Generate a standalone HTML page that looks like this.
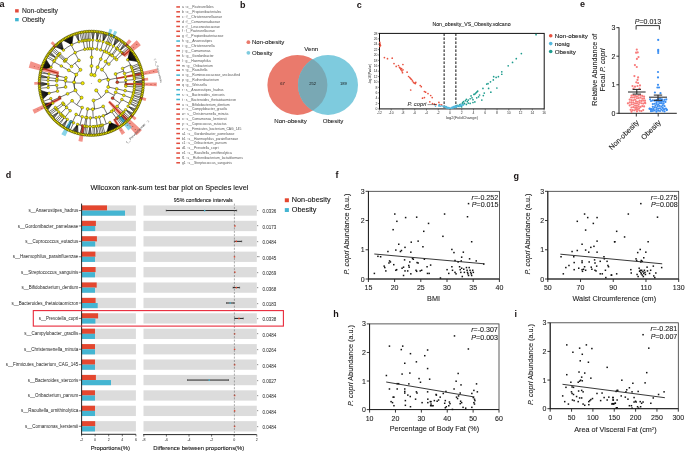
<!DOCTYPE html>
<html><head><meta charset="utf-8"><style>
html,body{margin:0;padding:0;background:#fff;overflow:hidden}
svg{display:block;will-change:transform}
text{font-family:"Liberation Sans",sans-serif}
</style></head><body>
<svg width="685" height="451" viewBox="0 0 685 451">
<rect width="685" height="451" fill="#fff"/>
<text x="-0.6" y="6.8" font-size="9.0" text-anchor="start" fill="#1a1414" font-weight="bold" font-style="normal" >a</text>
<text x="240" y="7.8" font-size="9.0" text-anchor="start" fill="#1a1414" font-weight="bold" font-style="normal" >b</text>
<text x="356.8" y="7.5" font-size="9.0" text-anchor="start" fill="#1a1414" font-weight="bold" font-style="normal" >c</text>
<text x="580.1" y="7.3" font-size="9.0" text-anchor="start" fill="#1a1414" font-weight="bold" font-style="normal" >e</text>
<text x="5.7" y="178.3" font-size="9.0" text-anchor="start" fill="#1a1414" font-weight="bold" font-style="normal" >d</text>
<text x="335.4" y="178.3" font-size="9.0" text-anchor="start" fill="#1a1414" font-weight="bold" font-style="normal" >f</text>
<text x="513.6" y="178.7" font-size="9.0" text-anchor="start" fill="#1a1414" font-weight="bold" font-style="normal" >g</text>
<text x="333.3" y="316.5" font-size="9.0" text-anchor="start" fill="#1a1414" font-weight="bold" font-style="normal" >h</text>
<text x="514.5" y="316.5" font-size="9.0" text-anchor="start" fill="#1a1414" font-weight="bold" font-style="normal" >i</text>
<path d="M107.8,33.99 L109.55,28.77 A57.5,57.5 0 0 1 112.37,29.8 L110.36,34.92 A52,52 0 0 0 107.8,33.99Z" fill="#5CC3E0" fill-opacity="0.72"/>
<path d="M112.2,35.69 L114.41,30.65 A57.5,57.5 0 0 1 117.14,31.93 L114.66,36.84 A52,52 0 0 0 112.2,35.69Z" fill="#5CC3E0" fill-opacity="0.72"/>
<path d="M125.14,43.82 L129.04,39.26 A58,58 0 0 1 131.59,41.58 L127.42,45.89 A52,52 0 0 0 125.14,43.82Z" fill="#EE6A5C" fill-opacity="0.72"/>
<path d="M122.18,54.1 L136.71,40.36 A62.5,62.5 0 0 1 140.82,45.17 L124.97,57.37 A42.5,42.5 0 0 0 122.18,54.1Z" fill="#EE6A5C" fill-opacity="0.72"/>
<path d="M116.47,77.63 L157.15,68.46 A67.5,67.5 0 0 1 157.99,72.86 L116.79,79.31 A25.8,25.8 0 0 0 116.47,77.63Z" fill="#EE6A5C" fill-opacity="0.72"/>
<path d="M143.05,78.23 L148.03,77.74 A57,57 0 0 1 148.23,80.52 L143.24,80.76 A52,52 0 0 0 143.05,78.23Z" fill="#EE6A5C" fill-opacity="0.72"/>
<path d="M125.7,82.88 L156.8,82.5 A65.5,65.5 0 0 1 156.74,86.16 L125.67,84.8 A34.4,34.4 0 0 0 125.7,82.88Z" fill="#EE6A5C" fill-opacity="0.72"/>
<path d="M141.5,96.85 L146.33,98.15 A57,57 0 0 1 145.48,101.01 L140.73,99.46 A52,52 0 0 0 141.5,96.85Z" fill="#EE6A5C" fill-opacity="0.72"/>
<path d="M132.55,114.96 L136.52,118 A57,57 0 0 1 134.64,120.32 L130.84,117.07 A52,52 0 0 0 132.55,114.96Z" fill="#EE6A5C" fill-opacity="0.72"/>
<path d="M109.95,100.69 L141.76,130.36 A69,69 0 0 1 136.57,135.37 L108.03,102.55 A25.5,25.5 0 0 0 109.95,100.69Z" fill="#EE6A5C" fill-opacity="0.72"/>
<path d="M120.18,114.48 L132.07,127.32 A60,60 0 0 1 128.4,130.45 L117.58,116.7 A42.5,42.5 0 0 0 120.18,114.48Z" fill="#5CC3E0" fill-opacity="0.72"/>
<path d="M115.25,118.41 L125.11,132.87 A60,60 0 0 1 121.93,134.89 L113,119.84 A42.5,42.5 0 0 0 115.25,118.41Z" fill="#EE6A5C" fill-opacity="0.72"/>
<path d="M84.8,126.31 L82.48,141.64 A59,59 0 0 1 78.43,140.88 L81.81,125.75 A43.5,43.5 0 0 0 84.8,126.31Z" fill="#EE6A5C" fill-opacity="0.72"/>
<path d="M72.38,121.92 L65.34,136.28 A59,59 0 0 1 61.36,134.14 L69.48,120.35 A43,43 0 0 0 72.38,121.92Z" fill="#5CC3E0" fill-opacity="0.72"/>
<path d="M61.6,99.22 L34.46,113.78 A64.5,64.5 0 0 1 32.47,109.74 L60.56,97.11 A33.7,33.7 0 0 0 61.6,99.22Z" fill="#EE6A5C" fill-opacity="0.72"/>
<path d="M40.32,84.55 L34.32,84.69 A57,57 0 0 1 34.32,81.91 L40.32,82.05 A51,51 0 0 0 40.32,84.55Z" fill="#EE6A5C" fill-opacity="0.72"/>
<path d="M58.12,75.03 L28.72,67.7 A64.5,64.5 0 0 1 30.69,61.24 L59.16,71.6 A34.2,34.2 0 0 0 58.12,75.03Z" fill="#EE6A5C" fill-opacity="0.72"/>
<path d="M54.21,46.85 L50.64,43.35 A57,57 0 0 1 52.79,41.28 L56.17,44.96 A52,52 0 0 0 54.21,46.85Z" fill="#EE6A5C" fill-opacity="0.72"/>
<path d="M77.58,124.37L78.11,133.56A51.96,51.96 0 0 1 71.63,131.39Z" fill="#111" fill-opacity="0.59"/>
<path d="M71.04,121.57L68.51,130A51.96,51.96 0 0 1 65.49,128.4Z" fill="#111" fill-opacity="0.35"/>
<path d="M67.37,119.39L64.03,127.53A51.96,51.96 0 0 1 61.18,125.64Z" fill="#111" fill-opacity="0.35"/>
<path d="M58.81,111.93L53.46,118.91A51.96,51.96 0 0 1 51.21,116.35Z" fill="#111" fill-opacity="0.35"/>
<path d="M52.81,103.13L47.22,110.81A51.96,51.96 0 0 1 43.31,103.22Z" fill="#111" fill-opacity="0.71"/>
<path d="M49.13,93.13L42.11,100.03A51.96,51.96 0 0 1 39.78,90.06Z" fill="#111" fill-opacity="0.83"/>
<path d="M48.01,83.97L39.45,86.66A51.96,51.96 0 0 1 39.37,81.54Z" fill="#111" fill-opacity="0.47"/>
<path d="M48.38,77.58L39.6,78.13A51.96,51.96 0 0 1 40.05,74.74Z" fill="#111" fill-opacity="0.35"/>
<path d="M51.07,67.28L41.14,69.74A51.96,51.96 0 0 1 45.56,58.66Z" fill="#111" fill-opacity="0.90"/>
<path d="M56.2,57.94L48.21,54.27A51.96,51.96 0 0 1 50.21,51.5Z" fill="#111" fill-opacity="0.35"/>
<path d="M63.45,50.14L54.73,46.39A51.96,51.96 0 0 1 61.26,40.9Z" fill="#111" fill-opacity="0.71"/>
<path d="M71.75,44.66L62.67,39.94A51.96,51.96 0 0 1 73.32,34.55Z" fill="#111" fill-opacity="0.90"/>
<path d="M79.02,41.78L74.93,33.99A51.96,51.96 0 0 1 78.21,33.02Z" fill="#111" fill-opacity="0.35"/>
<path d="M92.81,40.03L91.46,31.34A51.96,51.96 0 0 1 94.76,31.46Z" fill="#111" fill-opacity="0.35"/>
<path d="M96.92,40.37L96.4,31.59A51.96,51.96 0 0 1 99.67,32.02Z" fill="#111" fill-opacity="0.35"/>
<path d="M103.05,41.63L102.93,32.66A51.96,51.96 0 0 1 107.84,34.04Z" fill="#111" fill-opacity="0.47"/>
<path d="M113.45,46.09L115.65,37.4A51.96,51.96 0 0 1 120.05,40.02Z" fill="#111" fill-opacity="0.47"/>
<path d="M119.78,50.68L124.17,43.06A51.96,51.96 0 0 1 126.74,45.31Z" fill="#111" fill-opacity="0.35"/>
<path d="M127.67,59.81L130.31,48.98A51.96,51.96 0 0 1 138.63,61.85Z" fill="#111" fill-opacity="0.90"/>
<path d="M134.58,81.96L143.15,79.98A51.96,51.96 0 0 1 143.26,83.39Z" fill="#111" fill-opacity="0.35"/>
<path d="M128.03,106.23L136.25,109.37A51.96,51.96 0 0 1 134.46,112.24Z" fill="#111" fill-opacity="0.35"/>
<path d="M125.62,109.7L133.49,113.62A51.96,51.96 0 0 1 131.43,116.3Z" fill="#111" fill-opacity="0.35"/>
<path d="M109.88,122.41L120.2,126.48A51.96,51.96 0 0 1 106.51,132.98Z" fill="#111" fill-opacity="0.90"/>
<path d="M90.08,126.58L91.53,135.26A51.96,51.96 0 0 1 88.15,135.16Z" fill="#111" fill-opacity="0.35"/>
<path d="M82.64,83.16L73.98,83.03M73.98,83.03A17.32,17.32 0 0 0 81.58,97.64M73.98,83.03A17.32,17.32 0 0 0 75.47,90.33M73.98,83.03A17.32,17.32 0 0 1 74.01,82.31M73.98,83.03A17.32,17.32 0 0 1 76.29,74.65M73.98,83.03A17.32,17.32 0 0 1 80.42,69.83M81.58,97.64L76.72,104.8M76.72,104.8A25.98,25.98 0 0 0 82.16,107.62M76.72,104.8A25.98,25.98 0 0 1 72.09,100.79M82.16,107.62L79.11,115.73M79.11,115.73A34.64,34.64 0 0 0 82.23,116.73M79.11,115.73A34.64,34.64 0 0 1 76.11,114.43M82.23,116.73L79.96,125.09M79.96,125.09A43.3,43.3 0 0 0 82.38,125.67M79.96,125.09A43.3,43.3 0 0 1 77.58,124.37M82.38,125.67L81.44,134.32M82.38,125.67L79.77,133.96M77.58,124.37L78.11,133.56M77.58,124.37L76.46,133.1M77.58,124.37L74.83,132.58M77.58,124.37L73.22,132.01M77.58,124.37L71.63,131.39M76.11,114.43L72.31,122.21M72.31,122.21A43.3,43.3 0 0 0 73.6,122.82M72.31,122.21A43.3,43.3 0 0 1 71.04,121.57M73.6,122.82L70.06,130.72M71.04,121.57L68.51,130M71.04,121.57L66.99,129.22M71.04,121.57L65.49,128.4M72.09,100.79L65.69,106.62M65.69,106.62A34.64,34.64 0 0 0 70.15,110.73M65.69,106.62A34.64,34.64 0 0 0 66.6,107.59M65.69,106.62A34.64,34.64 0 0 1 63.86,104.44M65.69,106.62A34.64,34.64 0 0 1 62.85,103.06M70.15,110.73L64.86,117.59M64.86,117.59A43.3,43.3 0 0 0 67.37,119.39M64.86,117.59A43.3,43.3 0 0 1 64.49,117.3M64.86,117.59A43.3,43.3 0 0 1 62.85,115.94M67.37,119.39L64.03,127.53M67.37,119.39L62.59,126.61M67.37,119.39L61.18,125.64M64.49,117.3L59.8,124.63M64.49,117.3L58.46,123.57M62.85,115.94L57.16,122.47M66.6,107.59L60.43,113.66M60.43,113.66A43.3,43.3 0 0 0 61.79,114.99M60.43,113.66A43.3,43.3 0 0 0 60.76,114M60.43,113.66A43.3,43.3 0 0 1 58.81,111.93M61.79,114.99L55.89,121.32M60.76,114L54.66,120.14M58.81,111.93L53.46,118.91M58.81,111.93L52.31,117.65M58.81,111.93L51.21,116.35M63.86,104.44L57,109.73M57,109.73L50.14,115.01M62.85,103.06L55.74,108.01M55.74,108.01A43.3,43.3 0 0 0 56.15,108.59M55.74,108.01A43.3,43.3 0 0 1 55.34,107.42M56.15,108.59L49.12,113.64M55.34,107.42L48.15,112.24M75.47,90.33L67.56,93.85M67.56,93.85L59.64,97.37M59.64,97.37L51.73,100.88M51.73,100.88A43.3,43.3 0 0 0 52.81,103.13M51.73,100.88A43.3,43.3 0 0 1 50.79,98.58M52.81,103.13L47.22,110.81M52.81,103.13L46.34,109.34M52.81,103.13L45.51,107.85M52.81,103.13L44.72,106.33M52.81,103.13L43.99,104.79M52.81,103.13L43.31,103.22M50.79,98.58L42.68,101.63M74.01,82.31L65.36,81.82M65.36,81.82A25.98,25.98 0 0 0 65.58,87M65.36,81.82A25.98,25.98 0 0 1 65.45,80.72M65.36,81.82A25.98,25.98 0 0 1 65.92,77.76M65.58,87L57.01,88.23M57.01,88.23A34.64,34.64 0 0 0 57.57,91.17M57.01,88.23A34.64,34.64 0 0 1 56.72,85.26M57.57,91.17L49.13,93.13M49.13,93.13L42.11,100.03M49.13,93.13L41.58,98.4M49.13,93.13L41.11,96.76M49.13,93.13L40.7,95.1M49.13,93.13L40.34,93.43M49.13,93.13L40.03,91.75M49.13,93.13L39.78,90.06M56.72,85.26L48.07,85.75M48.07,85.75A43.3,43.3 0 0 0 48.21,87.52M48.07,85.75A43.3,43.3 0 0 1 48.01,83.97M48.21,87.52L39.59,88.36M48.01,83.97L39.45,86.66M48.01,83.97L39.37,84.96M48.01,83.97L39.34,83.25M48.01,83.97L39.37,81.54M65.45,80.72L56.83,79.85M56.83,79.85A34.64,34.64 0 0 0 56.74,80.99M56.83,79.85A34.64,34.64 0 0 1 56.96,78.72M56.74,80.99L48.1,80.41M48.1,80.41L39.46,79.83M56.96,78.72L48.38,77.58M48.38,77.58L39.6,78.13M48.38,77.58L39.8,76.43M48.38,77.58L40.05,74.74M65.92,77.76L57.46,75.92M57.46,75.92L48.99,74.07M48.99,74.07L40.36,73.06M48.99,74.07L40.72,71.4M76.29,74.65L68.79,70.32M68.79,70.32L61.29,66M61.29,66L53.79,61.67M53.79,61.67A43.3,43.3 0 0 0 51.07,67.28M53.79,61.67A43.3,43.3 0 0 1 53.88,61.52M53.79,61.67A43.3,43.3 0 0 1 54.61,60.3M53.79,61.67A43.3,43.3 0 0 1 56.2,57.94M51.07,67.28L41.14,69.74M51.07,67.28L41.61,68.1M51.07,67.28L42.14,66.47M51.07,67.28L42.72,64.87M51.07,67.28L43.35,63.28M51.07,67.28L44.04,61.71M51.07,67.28L44.77,60.17M51.07,67.28L45.56,58.66M53.88,61.52L46.39,57.16M54.61,60.3L47.27,55.7M56.2,57.94L48.21,54.27M56.2,57.94L49.18,52.87M56.2,57.94L50.21,51.5M80.42,69.83L74.98,63.09M74.98,63.09A25.98,25.98 0 0 0 71.56,66.41M74.98,63.09A25.98,25.98 0 0 1 78.94,60.45M71.56,66.41L64.98,60.78M64.98,60.78A34.64,34.64 0 0 0 64.62,61.21M64.98,60.78A34.64,34.64 0 0 1 65.36,60.35M64.62,61.21L57.94,55.69M57.94,55.69L51.27,50.17M65.36,60.35L58.87,54.61M58.87,54.61L52.38,48.87M78.94,60.45L74.82,52.83M74.82,52.83A34.64,34.64 0 0 0 66.12,59.51M74.82,52.83A34.64,34.64 0 0 1 75.16,52.65M74.82,52.83A34.64,34.64 0 0 1 84.79,49.28M66.12,59.51L59.83,53.56M59.83,53.56L53.54,47.61M75.16,52.65L71.12,44.99M71.12,44.99A43.3,43.3 0 0 0 63.45,50.14M71.12,44.99A43.3,43.3 0 0 1 71.75,44.66M71.12,44.99A43.3,43.3 0 0 1 79.02,41.78M63.45,50.14L54.73,46.39M63.45,50.14L55.96,45.21M63.45,50.14L57.24,44.06M63.45,50.14L58.54,42.97M63.45,50.14L59.89,41.91M63.45,50.14L61.26,40.9M71.75,44.66L62.67,39.94M71.75,44.66L64.12,39.02M71.75,44.66L65.59,38.15M71.75,44.66L67.08,37.33M71.75,44.66L68.61,36.56M71.75,44.66L70.16,35.84M71.75,44.66L71.73,35.17M71.75,44.66L73.32,34.55M79.02,41.78L74.93,33.99M79.02,41.78L76.56,33.47M79.02,41.78L78.21,33.02M84.79,49.28L83.17,40.77M83.17,40.77A43.3,43.3 0 0 0 81.77,41.06M83.17,40.77A43.3,43.3 0 0 1 84.57,40.53M81.77,41.06L79.87,32.61M83.17,40.77L81.54,32.26M84.57,40.53L83.22,31.97M91.4,74.64L91.49,65.98M91.49,65.98L91.59,57.32M91.59,57.32L91.68,48.66M91.68,48.66A34.64,34.64 0 0 0 87.57,48.86M91.68,48.66A34.64,34.64 0 0 0 89.76,48.69M91.68,48.66A34.64,34.64 0 0 1 92.51,48.68M91.68,48.66A34.64,34.64 0 0 1 96.88,49.11M87.57,48.86L86.64,40.25M86.64,40.25A43.3,43.3 0 0 0 85.95,40.33M86.64,40.25A43.3,43.3 0 0 1 87.32,40.18M85.95,40.33L84.89,31.74M87.32,40.18L86.53,31.56M89.76,48.69L89.38,40.04M89.38,40.04A43.3,43.3 0 0 0 88.69,40.08M89.38,40.04A43.3,43.3 0 0 1 90.06,40.02M88.69,40.08L88.17,31.43M90.06,40.02L89.82,31.36M92.51,48.68L92.81,40.03M92.81,40.03L91.46,31.34M92.81,40.03L93.11,31.37M92.81,40.03L94.76,31.46M96.88,49.11L98.28,40.57M98.28,40.57A43.3,43.3 0 0 0 96.92,40.37M98.28,40.57A43.3,43.3 0 0 1 99.63,40.81M96.92,40.37L96.4,31.59M96.92,40.37L98.04,31.78M96.92,40.37L99.67,32.02M99.63,40.81L101.3,32.31M94.46,75.24L97.61,67.17M97.61,67.17L100.77,59.11M100.77,59.11L103.93,51.04M103.93,51.04A34.64,34.64 0 0 0 100.7,49.96M103.93,51.04A34.64,34.64 0 0 1 104.45,51.25M103.93,51.04A34.64,34.64 0 0 1 106.52,52.18M100.7,49.96L103.05,41.63M103.05,41.63L102.93,32.66M103.05,41.63L104.58,33.07M103.05,41.63L106.22,33.53M103.05,41.63L107.84,34.04M104.45,51.25L107.74,43.24M107.74,43.24A43.3,43.3 0 0 0 106.42,42.73M107.74,43.24A43.3,43.3 0 0 1 109.04,43.8M106.42,42.73L109.44,34.61M107.74,43.24L111.03,35.23M109.04,43.8L112.59,35.9M106.52,52.18L110.32,44.4M110.32,44.4L114.13,36.62M99.58,80.75L107.85,78.19M107.85,78.19A17.32,17.32 0 0 0 101.9,69.61M107.85,78.19A17.32,17.32 0 0 1 108.27,79.84M107.85,78.19A17.32,17.32 0 0 1 108.22,87M101.9,69.61L107.21,62.76M107.21,62.76A25.98,25.98 0 0 0 105.5,61.54M107.21,62.76A25.98,25.98 0 0 1 108.81,64.11M105.5,61.54L110.23,54.29M110.23,54.29A34.64,34.64 0 0 0 109.02,53.54M110.23,54.29A34.64,34.64 0 0 1 111.4,55.09M109.02,53.54L113.45,46.09M113.45,46.09L115.65,37.4M113.45,46.09L117.14,38.22M113.45,46.09L118.61,39.1M113.45,46.09L120.05,40.02M111.4,55.09L116.43,48.04M116.43,48.04L121.46,40.99M108.81,64.11L114.65,57.71M114.65,57.71A34.64,34.64 0 0 0 112.32,55.77M114.65,57.71A34.64,34.64 0 0 1 114.93,57.97M114.65,57.71A34.64,34.64 0 0 1 116.54,59.58M112.32,55.77L117.58,48.88M117.58,48.88L122.83,42M114.93,57.97L120.84,51.64M120.84,51.64A43.3,43.3 0 0 0 119.78,50.68M120.84,51.64A43.3,43.3 0 0 1 121.86,52.63M119.78,50.68L124.17,43.06M119.78,50.68L125.48,44.16M119.78,50.68L126.74,45.31M121.86,52.63L127.97,46.49M116.54,59.58L122.85,53.65M122.85,53.65L129.16,47.72M108.27,79.84L116.76,78.11M116.76,78.11A25.98,25.98 0 0 0 115.58,74.05M116.76,78.11A25.98,25.98 0 0 1 117.26,82.3M115.58,74.05L123.67,70.97M123.67,70.97A34.64,34.64 0 0 0 122.61,68.48M123.67,70.97A34.64,34.64 0 0 1 124.53,73.53M122.61,68.48L130.44,64.78M130.44,64.78A43.3,43.3 0 0 0 127.67,59.81M130.44,64.78A43.3,43.3 0 0 1 131.3,66.73M130.44,64.78A43.3,43.3 0 0 1 131.83,68.05M127.67,59.81L130.31,48.98M127.67,59.81L131.42,50.28M127.67,59.81L132.48,51.62M127.67,59.81L133.5,52.99M127.67,59.81L134.48,54.39M127.67,59.81L135.4,55.83M127.67,59.81L136.28,57.29M127.67,59.81L137.11,58.79M127.67,59.81L137.89,60.3M127.67,59.81L138.63,61.85M131.3,66.73L139.3,63.42M131.83,68.05L139.93,65M124.53,73.53L132.84,71.09M132.84,71.09A43.3,43.3 0 0 0 132.53,70.07M132.84,71.09A43.3,43.3 0 0 1 133.13,72.12M132.53,70.07L140.51,66.61M132.53,70.07L141.03,68.24M133.13,72.12L141.5,69.88M117.26,82.3L125.91,81.96M125.91,81.96A34.64,34.64 0 0 0 125.33,76.85M125.91,81.96A34.64,34.64 0 0 0 125.81,80.33M125.91,81.96A34.64,34.64 0 0 1 125.92,84.5M125.91,81.96A34.64,34.64 0 0 1 125.82,86.21M125.33,76.85L133.84,75.24M133.84,75.24A43.3,43.3 0 0 0 133.63,74.19M133.84,75.24A43.3,43.3 0 0 1 134.03,76.29M133.63,74.19L141.91,71.54M133.63,74.19L142.27,73.21M134.03,76.29L142.57,74.89M125.81,80.33L134.44,79.59M134.44,79.59A43.3,43.3 0 0 0 134.24,77.7M134.44,79.59A43.3,43.3 0 0 0 134.4,79.11M134.44,79.59A43.3,43.3 0 0 1 134.58,81.96M134.24,77.7L142.82,76.58M134.4,79.11L143.02,78.28M134.58,81.96L143.15,79.98M134.58,81.96L143.23,81.69M134.58,81.96L143.26,83.39M125.92,84.5L134.57,84.8M134.57,84.8L143.23,85.1M125.82,86.21L134.45,86.93M134.45,86.93A43.3,43.3 0 0 0 134.5,86.22M134.45,86.93A43.3,43.3 0 0 1 134.38,87.64M134.5,86.22L143.14,86.81M134.38,87.64L143,88.51M108.22,87L116.68,88.86M116.68,88.86L125.14,90.71M125.14,90.71L133.6,92.56M133.6,92.56A43.3,43.3 0 0 0 134.12,89.76M133.6,92.56A43.3,43.3 0 0 0 133.74,91.86M133.6,92.56A43.3,43.3 0 0 1 133.44,93.25M133.6,92.56A43.3,43.3 0 0 1 132.9,95.32M134.12,89.76L142.8,90.21M134.12,89.76L142.54,91.9M133.74,91.86L142.23,93.58M133.44,93.25L141.87,95.25M132.9,95.32L141.45,96.9M132.9,95.32L140.97,98.54M96.26,90.4L101.21,97.5M101.21,97.5A17.32,17.32 0 0 0 106.65,91.32M101.21,97.5A17.32,17.32 0 0 1 93.54,100.47M106.65,91.32L114.33,95.33M114.33,95.33A25.98,25.98 0 0 0 115.66,92.33M114.33,95.33A25.98,25.98 0 0 1 112.62,98.15M115.66,92.33L123.78,95.33M123.78,95.33L131.9,98.34M131.9,98.34A43.3,43.3 0 0 0 132.26,97.35M131.9,98.34A43.3,43.3 0 0 1 131.52,99.33M132.26,97.35L140.45,100.16M131.52,99.33L139.88,101.75M131.52,99.33L139.25,103.32M112.62,98.15L119.73,103.09M119.73,103.09A34.64,34.64 0 0 0 121.9,99.53M119.73,103.09A34.64,34.64 0 0 1 117.14,106.37M121.9,99.53L129.55,103.59M129.55,103.59A43.3,43.3 0 0 0 130.69,101.27M129.55,103.59A43.3,43.3 0 0 0 129.77,103.17M129.55,103.59A43.3,43.3 0 0 1 128.03,106.23M130.69,101.27L138.57,104.87M129.77,103.17L137.85,106.39M129.77,103.17L137.07,107.89M128.03,106.23L136.25,109.37M128.03,106.23L135.38,110.82M128.03,106.23L134.46,112.24M117.14,106.37L123.6,112.14M123.6,112.14A43.3,43.3 0 0 0 125.62,109.7M123.6,112.14A43.3,43.3 0 0 0 123.83,111.88M123.6,112.14A43.3,43.3 0 0 1 122.89,112.92M123.6,112.14A43.3,43.3 0 0 1 121.91,113.93M125.62,109.7L133.49,113.62M125.62,109.7L132.48,114.98M125.62,109.7L131.43,116.3M123.83,111.88L130.34,117.59M122.89,112.92L129.2,118.84M121.91,113.93L128.03,120.06M93.54,100.47L94.66,109.06M94.66,109.06A25.98,25.98 0 0 0 103.19,106.4M94.66,109.06A25.98,25.98 0 0 1 92.73,109.24M94.66,109.06A25.98,25.98 0 0 1 87.62,109.02M103.19,106.4L107.15,114.1M107.15,114.1A34.64,34.64 0 0 0 113.43,109.95M107.15,114.1A34.64,34.64 0 0 0 111.49,111.44M107.15,114.1A34.64,34.64 0 0 1 103.31,115.79M107.15,114.1A34.64,34.64 0 0 1 99.27,117.01M113.43,109.95L118.96,116.62M118.96,116.62A43.3,43.3 0 0 0 120.38,115.39M118.96,116.62A43.3,43.3 0 0 1 118.78,116.77M118.96,116.62A43.3,43.3 0 0 1 117.67,117.64M120.38,115.39L126.81,121.23M120.38,115.39L125.56,122.37M118.78,116.77L124.27,123.46M117.67,117.64L122.95,124.51M111.49,111.44L116.54,118.48M116.54,118.48L121.59,125.52M103.31,115.79L106.31,123.91M106.31,123.91A43.3,43.3 0 0 0 109.88,122.41M106.31,123.91A43.3,43.3 0 0 1 102.62,125.09M109.88,122.41L120.2,126.48M109.88,122.41L118.78,127.4M109.88,122.41L117.33,128.27M109.88,122.41L115.86,129.09M109.88,122.41L114.36,129.86M109.88,122.41L112.83,130.59M109.88,122.41L111.28,131.27M109.88,122.41L109.71,131.89M109.88,122.41L108.12,132.46M109.88,122.41L106.51,132.98M102.62,125.09L104.89,133.45M99.27,117.01L101.26,125.44M101.26,125.44L103.25,133.87M92.73,109.24L93.21,117.89M93.21,117.89A34.64,34.64 0 0 0 96.08,117.61M93.21,117.89A34.64,34.64 0 0 1 90.32,117.93M96.08,117.61L97.28,126.19M97.28,126.19A43.3,43.3 0 0 0 99.88,125.74M97.28,126.19A43.3,43.3 0 0 0 98.5,126M97.28,126.19A43.3,43.3 0 0 1 96.41,126.3M97.28,126.19A43.3,43.3 0 0 1 94.3,126.5M99.88,125.74L101.6,134.23M98.5,126L99.94,134.54M96.41,126.3L98.27,134.79M96.41,126.3L96.59,134.99M94.3,126.5L94.9,135.13M90.32,117.93L90.08,126.58M90.08,126.58A43.3,43.3 0 0 0 92.9,126.57M90.08,126.58A43.3,43.3 0 0 1 87.27,126.41M92.9,126.57L93.22,135.22M90.08,126.58L91.53,135.26M90.08,126.58L89.84,135.24M90.08,126.58L88.15,135.16M87.27,126.41L86.46,135.03M87.62,109.02L86.4,117.59M86.4,117.59A34.64,34.64 0 0 0 86.96,117.67M86.4,117.59A34.64,34.64 0 0 1 85.84,117.51M86.96,117.67L85.87,126.26M85.87,126.26L84.78,134.85M85.84,117.51L84.48,126.06M84.48,126.06L83.11,134.61" stroke="#000" stroke-width="0.55" fill="none"/>
<circle cx="91.3" cy="83.3" r="51.96" fill="none" stroke="#3a3a10" stroke-width="1.2"/>
<text x="133.5" y="48.06" font-size="2.3" text-anchor="middle" fill="#8a1a10">c</text>
<text x="136.54" y="45.46" font-size="2.3" text-anchor="middle" fill="#8a1a10">d</text>
<line x1="123.62" y1="55.7" x2="130.84" y2="49.53" stroke="#B8301F" stroke-width="1.3" />
<text x="145.82" y="73.7" font-size="2.3" text-anchor="middle" fill="#8a1a10">e</text>
<text x="149.75" y="72.95" font-size="2.3" text-anchor="middle" fill="#8a1a10">f</text>
<text x="153.68" y="72.2" font-size="2.3" text-anchor="middle" fill="#8a1a10">g</text>
<line x1="116.64" y1="78.47" x2="142.38" y2="73.56" stroke="#B8301F" stroke-width="1.3" />
<text x="146.79" y="84.97" font-size="2.3" text-anchor="middle" fill="#8a1a10">p</text>
<text x="150.79" y="85.03" font-size="2.3" text-anchor="middle" fill="#8a1a10">q</text>
<text x="154.79" y="85.1" font-size="2.3" text-anchor="middle" fill="#8a1a10">n</text>
<line x1="125.7" y1="83.84" x2="143.29" y2="84.12" stroke="#B8301F" stroke-width="1.3" />
<text x="129.85" y="124.02" font-size="2.3" text-anchor="middle" fill="#8a1a10">m</text>
<text x="132.63" y="126.9" font-size="2.3" text-anchor="middle" fill="#8a1a10">a</text>
<text x="135.41" y="129.78" font-size="2.3" text-anchor="middle" fill="#8a1a10">b</text>
<line x1="109.01" y1="101.64" x2="127.42" y2="120.71" stroke="#B8301F" stroke-width="1.3" />
<text x="127.34" y="126.3" font-size="2.3" text-anchor="middle" fill="#8a1a10">u</text>
<line x1="118.9" y1="115.62" x2="125.07" y2="122.84" stroke="#2E9CC8" stroke-width="1.3" />
<text x="121.12" y="130.91" font-size="2.3" text-anchor="middle" fill="#8a1a10">v</text>
<line x1="114.14" y1="119.14" x2="119.24" y2="127.16" stroke="#B8301F" stroke-width="1.3" />
<line x1="83.3" y1="126.06" x2="81.73" y2="134.41" stroke="#B8301F" stroke-width="1.3" />
<line x1="70.91" y1="121.16" x2="66.65" y2="129.08" stroke="#2E9CC8" stroke-width="1.3" />
<text x="41.5" y="108.6" font-size="2.3" text-anchor="middle" fill="#8a1a10">w</text>
<text x="37.91" y="110.37" font-size="2.3" text-anchor="middle" fill="#8a1a10">x</text>
<line x1="61.06" y1="98.18" x2="44.64" y2="106.26" stroke="#B8301F" stroke-width="1.3" />
<text x="38.23" y="67.87" font-size="2.3" text-anchor="middle" fill="#8a1a10">y</text>
<text x="34.4" y="66.7" font-size="2.3" text-anchor="middle" fill="#8a1a10">z</text>
<line x1="58.59" y1="73.3" x2="41.57" y2="68.1" stroke="#B8301F" stroke-width="1.3" />
<g fill="#F2EA00" stroke="#333300" stroke-width="0.4"><circle cx="81.44" cy="134.32" r="1.2" stroke-width="0.55"/><circle cx="79.77" cy="133.96" r="1.2" stroke-width="0.55"/><circle cx="78.11" cy="133.56" r="1.2" stroke-width="0.55"/><circle cx="76.46" cy="133.1" r="1.2" stroke-width="0.55"/><circle cx="74.83" cy="132.58" r="1.2" stroke-width="0.55"/><circle cx="73.22" cy="132.01" r="1.2" stroke-width="0.55"/><circle cx="71.63" cy="131.39" r="1.2" stroke-width="0.55"/><circle cx="70.06" cy="130.72" r="1.2" stroke-width="0.55"/><circle cx="68.51" cy="130" r="1.2" stroke-width="0.55"/><circle cx="66.99" cy="129.22" r="1.2" stroke-width="0.55"/><circle cx="65.49" cy="128.4" r="1.2" stroke-width="0.55"/><circle cx="64.03" cy="127.53" r="1.2" stroke-width="0.55"/><circle cx="62.59" cy="126.61" r="1.2" stroke-width="0.55"/><circle cx="61.18" cy="125.64" r="1.2" stroke-width="0.55"/><circle cx="59.8" cy="124.63" r="1.2" stroke-width="0.55"/><circle cx="58.46" cy="123.57" r="1.2" stroke-width="0.55"/><circle cx="57.16" cy="122.47" r="1.2" stroke-width="0.55"/><circle cx="55.89" cy="121.32" r="1.2" stroke-width="0.55"/><circle cx="54.66" cy="120.14" r="1.2" stroke-width="0.55"/><circle cx="53.46" cy="118.91" r="1.2" stroke-width="0.55"/><circle cx="52.31" cy="117.65" r="1.2" stroke-width="0.55"/><circle cx="51.21" cy="116.35" r="1.2" stroke-width="0.55"/><circle cx="50.14" cy="115.01" r="1.2" stroke-width="0.55"/><circle cx="49.12" cy="113.64" r="1.2" stroke-width="0.55"/><circle cx="48.15" cy="112.24" r="1.2" stroke-width="0.55"/><circle cx="47.22" cy="110.81" r="1.2" stroke-width="0.55"/><circle cx="46.34" cy="109.34" r="1.2" stroke-width="0.55"/><circle cx="45.51" cy="107.85" r="1.2" stroke-width="0.55"/><circle cx="44.72" cy="106.33" r="1.2" stroke-width="0.55"/><circle cx="43.99" cy="104.79" r="1.2" stroke-width="0.55"/><circle cx="43.31" cy="103.22" r="1.2" stroke-width="0.55"/><circle cx="42.68" cy="101.63" r="1.2" stroke-width="0.55"/><circle cx="42.11" cy="100.03" r="1.2" stroke-width="0.55"/><circle cx="41.58" cy="98.4" r="1.2" stroke-width="0.55"/><circle cx="41.11" cy="96.76" r="1.2" stroke-width="0.55"/><circle cx="40.7" cy="95.1" r="1.2" stroke-width="0.55"/><circle cx="40.34" cy="93.43" r="1.2" stroke-width="0.55"/><circle cx="40.03" cy="91.75" r="1.2" stroke-width="0.55"/><circle cx="39.78" cy="90.06" r="1.2" stroke-width="0.55"/><circle cx="39.59" cy="88.36" r="1.2" stroke-width="0.55"/><circle cx="39.45" cy="86.66" r="1.2" stroke-width="0.55"/><circle cx="39.37" cy="84.96" r="1.2" stroke-width="0.55"/><circle cx="39.34" cy="83.25" r="1.2" fill="#D2392B" stroke-width="0.55"/><circle cx="39.37" cy="81.54" r="1.2" stroke-width="0.55"/><circle cx="39.46" cy="79.83" r="1.2" stroke-width="0.55"/><circle cx="39.6" cy="78.13" r="1.2" stroke-width="0.55"/><circle cx="39.8" cy="76.43" r="1.2" stroke-width="0.55"/><circle cx="40.05" cy="74.74" r="1.2" stroke-width="0.55"/><circle cx="40.36" cy="73.06" r="1.2" stroke-width="0.55"/><circle cx="40.72" cy="71.4" r="1.2" stroke-width="0.55"/><circle cx="41.14" cy="69.74" r="1.2" stroke-width="0.55"/><circle cx="41.61" cy="68.1" r="1.2" stroke-width="0.55"/><circle cx="42.14" cy="66.47" r="1.2" stroke-width="0.55"/><circle cx="42.72" cy="64.87" r="1.2" stroke-width="0.55"/><circle cx="43.35" cy="63.28" r="1.2" stroke-width="0.55"/><circle cx="44.04" cy="61.71" r="1.2" stroke-width="0.55"/><circle cx="44.77" cy="60.17" r="1.2" stroke-width="0.55"/><circle cx="45.56" cy="58.66" r="1.2" stroke-width="0.55"/><circle cx="46.39" cy="57.16" r="1.2" stroke-width="0.55"/><circle cx="47.27" cy="55.7" r="1.2" stroke-width="0.55"/><circle cx="48.21" cy="54.27" r="1.2" stroke-width="0.55"/><circle cx="49.18" cy="52.87" r="1.2" stroke-width="0.55"/><circle cx="50.21" cy="51.5" r="1.2" stroke-width="0.55"/><circle cx="51.27" cy="50.17" r="1.2" stroke-width="0.55"/><circle cx="52.38" cy="48.87" r="1.2" stroke-width="0.55"/><circle cx="53.54" cy="47.61" r="1.2" stroke-width="0.55"/><circle cx="54.73" cy="46.39" r="1.2" fill="#D2392B" stroke-width="0.55"/><circle cx="55.96" cy="45.21" r="1.2" stroke-width="0.55"/><circle cx="57.24" cy="44.06" r="1.2" stroke-width="0.55"/><circle cx="58.54" cy="42.97" r="1.2" stroke-width="0.55"/><circle cx="59.89" cy="41.91" r="1.2" stroke-width="0.55"/><circle cx="61.26" cy="40.9" r="1.2" stroke-width="0.55"/><circle cx="62.67" cy="39.94" r="1.2" stroke-width="0.55"/><circle cx="64.12" cy="39.02" r="1.2" stroke-width="0.55"/><circle cx="65.59" cy="38.15" r="1.2" stroke-width="0.55"/><circle cx="67.08" cy="37.33" r="1.2" stroke-width="0.55"/><circle cx="68.61" cy="36.56" r="1.2" stroke-width="0.55"/><circle cx="70.16" cy="35.84" r="1.2" stroke-width="0.55"/><circle cx="71.73" cy="35.17" r="1.2" stroke-width="0.55"/><circle cx="73.32" cy="34.55" r="1.2" stroke-width="0.55"/><circle cx="74.93" cy="33.99" r="1.2" stroke-width="0.55"/><circle cx="76.56" cy="33.47" r="1.2" stroke-width="0.55"/><circle cx="78.21" cy="33.02" r="1.2" stroke-width="0.55"/><circle cx="79.87" cy="32.61" r="1.2" stroke-width="0.55"/><circle cx="81.54" cy="32.26" r="1.2" stroke-width="0.55"/><circle cx="83.22" cy="31.97" r="1.2" stroke-width="0.55"/><circle cx="84.89" cy="31.74" r="1.2" stroke-width="0.55"/><circle cx="86.53" cy="31.56" r="1.2" stroke-width="0.55"/><circle cx="88.17" cy="31.43" r="1.2" stroke-width="0.55"/><circle cx="89.82" cy="31.36" r="1.2" stroke-width="0.55"/><circle cx="91.46" cy="31.34" r="1.2" stroke-width="0.55"/><circle cx="93.11" cy="31.37" r="1.2" stroke-width="0.55"/><circle cx="94.76" cy="31.46" r="1.2" stroke-width="0.55"/><circle cx="96.4" cy="31.59" r="1.2" stroke-width="0.55"/><circle cx="98.04" cy="31.78" r="1.2" stroke-width="0.55"/><circle cx="99.67" cy="32.02" r="1.2" stroke-width="0.55"/><circle cx="101.3" cy="32.31" r="1.2" stroke-width="0.55"/><circle cx="102.93" cy="32.66" r="1.2" stroke-width="0.55"/><circle cx="104.58" cy="33.07" r="1.2" stroke-width="0.55"/><circle cx="106.22" cy="33.53" r="1.2" stroke-width="0.55"/><circle cx="107.84" cy="34.04" r="1.2" stroke-width="0.55"/><circle cx="109.44" cy="34.61" r="1.2" fill="#3AAAD0" stroke-width="0.55"/><circle cx="111.03" cy="35.23" r="1.2" stroke-width="0.55"/><circle cx="112.59" cy="35.9" r="1.2" stroke-width="0.55"/><circle cx="114.13" cy="36.62" r="1.2" fill="#3AAAD0" stroke-width="0.55"/><circle cx="115.65" cy="37.4" r="1.2" stroke-width="0.55"/><circle cx="117.14" cy="38.22" r="1.2" stroke-width="0.55"/><circle cx="118.61" cy="39.1" r="1.2" stroke-width="0.55"/><circle cx="120.05" cy="40.02" r="1.2" stroke-width="0.55"/><circle cx="121.46" cy="40.99" r="1.2" stroke-width="0.55"/><circle cx="122.83" cy="42" r="1.2" stroke-width="0.55"/><circle cx="124.17" cy="43.06" r="1.2" stroke-width="0.55"/><circle cx="125.48" cy="44.16" r="1.2" stroke-width="0.55"/><circle cx="126.74" cy="45.31" r="1.2" fill="#D2392B" stroke-width="0.55"/><circle cx="127.97" cy="46.49" r="1.2" stroke-width="0.55"/><circle cx="129.16" cy="47.72" r="1.2" stroke-width="0.55"/><circle cx="130.31" cy="48.98" r="1.2" stroke-width="0.55"/><circle cx="131.42" cy="50.28" r="1.2" stroke-width="0.55"/><circle cx="132.48" cy="51.62" r="1.2" stroke-width="0.55"/><circle cx="133.5" cy="52.99" r="1.2" stroke-width="0.55"/><circle cx="134.48" cy="54.39" r="1.2" stroke-width="0.55"/><circle cx="135.4" cy="55.83" r="1.2" stroke-width="0.55"/><circle cx="136.28" cy="57.29" r="1.2" stroke-width="0.55"/><circle cx="137.11" cy="58.79" r="1.2" stroke-width="0.55"/><circle cx="137.89" cy="60.3" r="1.2" stroke-width="0.55"/><circle cx="138.63" cy="61.85" r="1.2" stroke-width="0.55"/><circle cx="139.3" cy="63.42" r="1.2" stroke-width="0.55"/><circle cx="139.93" cy="65" r="1.2" stroke-width="0.55"/><circle cx="140.51" cy="66.61" r="1.2" stroke-width="0.55"/><circle cx="141.03" cy="68.24" r="1.2" stroke-width="0.55"/><circle cx="141.5" cy="69.88" r="1.2" stroke-width="0.55"/><circle cx="141.91" cy="71.54" r="1.2" stroke-width="0.55"/><circle cx="142.27" cy="73.21" r="1.2" stroke-width="0.55"/><circle cx="142.57" cy="74.89" r="1.2" stroke-width="0.55"/><circle cx="142.82" cy="76.58" r="1.2" stroke-width="0.55"/><circle cx="143.02" cy="78.28" r="1.2" stroke-width="0.55"/><circle cx="143.15" cy="79.98" r="1.2" fill="#D2392B" stroke-width="0.55"/><circle cx="143.23" cy="81.69" r="1.2" stroke-width="0.55"/><circle cx="143.26" cy="83.39" r="1.2" stroke-width="0.55"/><circle cx="143.23" cy="85.1" r="1.2" stroke-width="0.55"/><circle cx="143.14" cy="86.81" r="1.2" stroke-width="0.55"/><circle cx="143" cy="88.51" r="1.2" stroke-width="0.55"/><circle cx="142.8" cy="90.21" r="1.2" stroke-width="0.55"/><circle cx="142.54" cy="91.9" r="1.2" stroke-width="0.55"/><circle cx="142.23" cy="93.58" r="1.2" stroke-width="0.55"/><circle cx="141.87" cy="95.25" r="1.2" stroke-width="0.55"/><circle cx="141.45" cy="96.9" r="1.2" stroke-width="0.55"/><circle cx="140.97" cy="98.54" r="1.2" fill="#D2392B" stroke-width="0.55"/><circle cx="140.45" cy="100.16" r="1.2" stroke-width="0.55"/><circle cx="139.88" cy="101.75" r="1.2" stroke-width="0.55"/><circle cx="139.25" cy="103.32" r="1.2" stroke-width="0.55"/><circle cx="138.57" cy="104.87" r="1.2" stroke-width="0.55"/><circle cx="137.85" cy="106.39" r="1.2" stroke-width="0.55"/><circle cx="137.07" cy="107.89" r="1.2" stroke-width="0.55"/><circle cx="136.25" cy="109.37" r="1.2" stroke-width="0.55"/><circle cx="135.38" cy="110.82" r="1.2" stroke-width="0.55"/><circle cx="134.46" cy="112.24" r="1.2" stroke-width="0.55"/><circle cx="133.49" cy="113.62" r="1.2" stroke-width="0.55"/><circle cx="132.48" cy="114.98" r="1.2" stroke-width="0.55"/><circle cx="131.43" cy="116.3" r="1.2" fill="#D2392B" stroke-width="0.55"/><circle cx="130.34" cy="117.59" r="1.2" stroke-width="0.55"/><circle cx="129.2" cy="118.84" r="1.2" stroke-width="0.55"/><circle cx="128.03" cy="120.06" r="1.2" stroke-width="0.55"/><circle cx="126.81" cy="121.23" r="1.2" stroke-width="0.55"/><circle cx="125.56" cy="122.37" r="1.2" stroke-width="0.55"/><circle cx="124.27" cy="123.46" r="1.2" stroke-width="0.55"/><circle cx="122.95" cy="124.51" r="1.2" stroke-width="0.55"/><circle cx="121.59" cy="125.52" r="1.2" stroke-width="0.55"/><circle cx="120.2" cy="126.48" r="1.2" stroke-width="0.55"/><circle cx="118.78" cy="127.4" r="1.2" stroke-width="0.55"/><circle cx="117.33" cy="128.27" r="1.2" stroke-width="0.55"/><circle cx="115.86" cy="129.09" r="1.2" stroke-width="0.55"/><circle cx="114.36" cy="129.86" r="1.2" stroke-width="0.55"/><circle cx="112.83" cy="130.59" r="1.2" stroke-width="0.55"/><circle cx="111.28" cy="131.27" r="1.2" stroke-width="0.55"/><circle cx="109.71" cy="131.89" r="1.2" stroke-width="0.55"/><circle cx="108.12" cy="132.46" r="1.2" stroke-width="0.55"/><circle cx="106.51" cy="132.98" r="1.2" stroke-width="0.55"/><circle cx="104.89" cy="133.45" r="1.2" stroke-width="0.55"/><circle cx="103.25" cy="133.87" r="1.2" stroke-width="0.55"/><circle cx="101.6" cy="134.23" r="1.2" stroke-width="0.55"/><circle cx="99.94" cy="134.54" r="1.2" stroke-width="0.55"/><circle cx="98.27" cy="134.79" r="1.2" stroke-width="0.55"/><circle cx="96.59" cy="134.99" r="1.2" stroke-width="0.55"/><circle cx="94.9" cy="135.13" r="1.2" stroke-width="0.55"/><circle cx="93.22" cy="135.22" r="1.2" stroke-width="0.55"/><circle cx="91.53" cy="135.26" r="1.2" stroke-width="0.55"/><circle cx="89.84" cy="135.24" r="1.2" stroke-width="0.55"/><circle cx="88.15" cy="135.16" r="1.2" stroke-width="0.55"/><circle cx="86.46" cy="135.03" r="1.2" stroke-width="0.55"/><circle cx="84.78" cy="134.85" r="1.2" stroke-width="0.55"/><circle cx="83.11" cy="134.61" r="1.2" stroke-width="0.55"/><circle cx="82.38" cy="125.67" r="1.25" fill="#D2392B"/><circle cx="77.58" cy="124.37" r="1.25"/><circle cx="73.6" cy="122.82" r="1.25"/><circle cx="71.04" cy="121.57" r="1.25" fill="#3AAAD0"/><circle cx="67.37" cy="119.39" r="1.25"/><circle cx="64.49" cy="117.3" r="1.25"/><circle cx="62.85" cy="115.94" r="1.25"/><circle cx="61.79" cy="114.99" r="1.25"/><circle cx="60.76" cy="114" r="1.25"/><circle cx="58.81" cy="111.93" r="1.25"/><circle cx="57" cy="109.73" r="1.25"/><circle cx="56.15" cy="108.59" r="1.25"/><circle cx="55.34" cy="107.42" r="1.25"/><circle cx="52.81" cy="103.13" r="1.25"/><circle cx="50.79" cy="98.58" r="1.25"/><circle cx="49.13" cy="93.13" r="1.25"/><circle cx="48.21" cy="87.52" r="1.25"/><circle cx="48.01" cy="83.97" r="1.25"/><circle cx="48.1" cy="80.41" r="1.25"/><circle cx="48.38" cy="77.58" r="1.25"/><circle cx="48.99" cy="74.07" r="1.25"/><circle cx="51.07" cy="67.28" r="1.25"/><circle cx="53.88" cy="61.52" r="1.25"/><circle cx="54.61" cy="60.3" r="1.25"/><circle cx="56.2" cy="57.94" r="1.25"/><circle cx="57.94" cy="55.69" r="1.25"/><circle cx="58.87" cy="54.61" r="1.25"/><circle cx="59.83" cy="53.56" r="1.25"/><circle cx="63.45" cy="50.14" r="1.25"/><circle cx="71.75" cy="44.66" r="1.25"/><circle cx="79.02" cy="41.78" r="1.25"/><circle cx="81.77" cy="41.06" r="1.25"/><circle cx="83.17" cy="40.77" r="1.25"/><circle cx="84.57" cy="40.53" r="1.25"/><circle cx="85.95" cy="40.33" r="1.25"/><circle cx="87.32" cy="40.18" r="1.25"/><circle cx="88.69" cy="40.08" r="1.25"/><circle cx="90.06" cy="40.02" r="1.25"/><circle cx="92.81" cy="40.03" r="1.25"/><circle cx="96.92" cy="40.37" r="1.25"/><circle cx="99.63" cy="40.81" r="1.25"/><circle cx="103.05" cy="41.63" r="1.25"/><circle cx="106.42" cy="42.73" r="1.25"/><circle cx="107.74" cy="43.24" r="1.25"/><circle cx="109.04" cy="43.8" r="1.25"/><circle cx="110.32" cy="44.4" r="1.25"/><circle cx="113.45" cy="46.09" r="1.25"/><circle cx="116.43" cy="48.04" r="1.25"/><circle cx="117.58" cy="48.88" r="1.25"/><circle cx="119.78" cy="50.68" r="1.25"/><circle cx="121.86" cy="52.63" r="1.25"/><circle cx="122.85" cy="53.65" r="1.25" fill="#D2392B"/><circle cx="127.67" cy="59.81" r="1.25"/><circle cx="131.3" cy="66.73" r="1.25"/><circle cx="131.83" cy="68.05" r="1.25"/><circle cx="132.53" cy="70.07" r="1.25"/><circle cx="133.13" cy="72.12" r="1.25"/><circle cx="133.63" cy="74.19" r="1.25"/><circle cx="134.03" cy="76.29" r="1.25"/><circle cx="134.24" cy="77.7" r="1.25"/><circle cx="134.4" cy="79.11" r="1.25"/><circle cx="134.58" cy="81.96" r="1.25"/><circle cx="134.57" cy="84.8" r="1.25"/><circle cx="134.5" cy="86.22" r="1.25"/><circle cx="134.38" cy="87.64" r="1.25"/><circle cx="134.12" cy="89.76" r="1.25"/><circle cx="133.74" cy="91.86" r="1.25"/><circle cx="133.44" cy="93.25" r="1.25"/><circle cx="132.9" cy="95.32" r="1.25"/><circle cx="132.26" cy="97.35" r="1.25"/><circle cx="131.52" cy="99.33" r="1.25"/><circle cx="130.69" cy="101.27" r="1.25"/><circle cx="129.77" cy="103.17" r="1.25"/><circle cx="128.03" cy="106.23" r="1.25"/><circle cx="125.62" cy="109.7" r="1.25"/><circle cx="123.83" cy="111.88" r="1.25"/><circle cx="122.89" cy="112.92" r="1.25"/><circle cx="121.91" cy="113.93" r="1.25"/><circle cx="120.38" cy="115.39" r="1.25"/><circle cx="118.78" cy="116.77" r="1.25" fill="#3AAAD0"/><circle cx="117.67" cy="117.64" r="1.25"/><circle cx="116.54" cy="118.48" r="1.25" fill="#D2392B"/><circle cx="109.88" cy="122.41" r="1.25"/><circle cx="102.62" cy="125.09" r="1.25"/><circle cx="101.26" cy="125.44" r="1.25"/><circle cx="99.88" cy="125.74" r="1.25"/><circle cx="98.5" cy="126" r="1.25"/><circle cx="96.41" cy="126.3" r="1.25"/><circle cx="94.3" cy="126.5" r="1.25"/><circle cx="92.9" cy="126.57" r="1.25"/><circle cx="90.08" cy="126.58" r="1.25"/><circle cx="87.27" cy="126.41" r="1.25"/><circle cx="85.87" cy="126.26" r="1.25"/><circle cx="84.48" cy="126.06" r="1.25"/><circle cx="82.23" cy="116.73" r="1.35"/><circle cx="76.11" cy="114.43" r="1.35"/><circle cx="70.15" cy="110.73" r="1.35"/><circle cx="66.6" cy="107.59" r="1.35"/><circle cx="63.86" cy="104.44" r="1.35"/><circle cx="62.85" cy="103.06" r="1.35"/><circle cx="59.64" cy="97.37" r="1.35" fill="#D2392B"/><circle cx="57.57" cy="91.17" r="1.35"/><circle cx="56.72" cy="85.26" r="1.35"/><circle cx="56.74" cy="80.99" r="1.35"/><circle cx="56.96" cy="78.72" r="1.35"/><circle cx="57.46" cy="75.92" r="1.35" fill="#D2392B"/><circle cx="61.29" cy="66" r="1.35"/><circle cx="64.62" cy="61.21" r="1.35"/><circle cx="65.36" cy="60.35" r="1.35"/><circle cx="66.12" cy="59.51" r="1.35"/><circle cx="75.16" cy="52.65" r="1.35"/><circle cx="84.79" cy="49.28" r="1.35"/><circle cx="87.57" cy="48.86" r="1.35"/><circle cx="89.76" cy="48.69" r="1.35"/><circle cx="92.51" cy="48.68" r="1.35"/><circle cx="96.88" cy="49.11" r="1.35"/><circle cx="100.7" cy="49.96" r="1.35"/><circle cx="104.45" cy="51.25" r="1.35"/><circle cx="106.52" cy="52.18" r="1.35"/><circle cx="109.02" cy="53.54" r="1.35"/><circle cx="111.4" cy="55.09" r="1.35"/><circle cx="112.32" cy="55.77" r="1.35"/><circle cx="114.93" cy="57.97" r="1.35"/><circle cx="116.54" cy="59.58" r="1.35"/><circle cx="122.61" cy="68.48" r="1.35"/><circle cx="124.53" cy="73.53" r="1.35"/><circle cx="125.33" cy="76.85" r="1.35"/><circle cx="125.81" cy="80.33" r="1.35"/><circle cx="125.92" cy="84.5" r="1.35" fill="#D2392B"/><circle cx="125.82" cy="86.21" r="1.35"/><circle cx="125.14" cy="90.71" r="1.35"/><circle cx="123.78" cy="95.33" r="1.35"/><circle cx="121.9" cy="99.53" r="1.35"/><circle cx="117.14" cy="106.37" r="1.35"/><circle cx="113.43" cy="109.95" r="1.35"/><circle cx="111.49" cy="111.44" r="1.35"/><circle cx="103.31" cy="115.79" r="1.35"/><circle cx="99.27" cy="117.01" r="1.35"/><circle cx="96.08" cy="117.61" r="1.35"/><circle cx="90.32" cy="117.93" r="1.35"/><circle cx="86.96" cy="117.67" r="1.35"/><circle cx="85.84" cy="117.51" r="1.35"/><circle cx="82.16" cy="107.62" r="1.45"/><circle cx="72.09" cy="100.79" r="1.45"/><circle cx="67.56" cy="93.85" r="1.45"/><circle cx="65.58" cy="87" r="1.45"/><circle cx="65.45" cy="80.72" r="1.45"/><circle cx="65.92" cy="77.76" r="1.45"/><circle cx="68.79" cy="70.32" r="1.45"/><circle cx="71.56" cy="66.41" r="1.45"/><circle cx="78.94" cy="60.45" r="1.45"/><circle cx="91.59" cy="57.32" r="1.45"/><circle cx="100.77" cy="59.11" r="1.45"/><circle cx="105.5" cy="61.54" r="1.45"/><circle cx="108.81" cy="64.11" r="1.45"/><circle cx="115.58" cy="74.05" r="1.45"/><circle cx="117.26" cy="82.3" r="1.45" fill="#D2392B"/><circle cx="116.68" cy="88.86" r="1.45"/><circle cx="115.66" cy="92.33" r="1.45"/><circle cx="112.62" cy="98.15" r="1.45" fill="#D2392B"/><circle cx="103.19" cy="106.4" r="1.45"/><circle cx="92.73" cy="109.24" r="1.45"/><circle cx="87.62" cy="109.02" r="1.45"/><circle cx="81.58" cy="97.64" r="1.55"/><circle cx="75.47" cy="90.33" r="1.55"/><circle cx="74.01" cy="82.31" r="1.55"/><circle cx="76.29" cy="74.65" r="1.55"/><circle cx="80.42" cy="69.83" r="1.55"/><circle cx="91.49" cy="65.98" r="1.55"/><circle cx="97.61" cy="67.17" r="1.55"/><circle cx="101.9" cy="69.61" r="1.55"/><circle cx="108.27" cy="79.84" r="1.55"/><circle cx="108.22" cy="87" r="1.55"/><circle cx="106.65" cy="91.32" r="1.55"/><circle cx="93.54" cy="100.47" r="1.55"/><circle cx="82.64" cy="83.16" r="1.65"/><circle cx="91.4" cy="74.64" r="1.65"/><circle cx="94.46" cy="75.24" r="1.65"/><circle cx="99.58" cy="80.75" r="1.65"/><circle cx="96.26" cy="90.4" r="1.65"/></g>
<circle cx="91.3" cy="83.3" r="0.4" fill="#333" />
<text x="0" y="0" font-size="2.8" fill="#444" transform="translate(155.2,61.2) rotate(76.4)">o__Pasteurellales</text>
<path d="M154.2,60.5 q-0.2,-1.4 0.8,-1.8 q1,0 0.8,1" fill="none" stroke="#777" stroke-width="0.35"/>
<text x="0" y="0" font-size="3.3" fill="#444" transform="translate(127.4,143.6) rotate(-46)">f__Prevotellaceae</text>
<path d="M146.6,121.5 q1.2,-1.6 2.2,-0.4 q0.3,1 -0.8,1.5" fill="none" stroke="#777" stroke-width="0.35"/>
<rect x="15.1" y="9.2" width="3.6" height="3.3" fill="#E24A3B" />
<text x="21.9" y="12.8" font-size="6.77" text-anchor="start" fill="#222" font-weight="normal" font-style="normal" stroke="#222" stroke-width="0.09" >Non-obesity</text>
<rect x="15.1" y="18" width="3.6" height="3.3" fill="#3EB5D2" />
<text x="21.9" y="21.6" font-size="6.77" text-anchor="start" fill="#222" font-weight="normal" font-style="normal" stroke="#222" stroke-width="0.09" >Obesity</text>
<rect x="176.3" y="6.2" width="3.7" height="1.5" fill="#E24A3B" />
<text x="181.9" y="8.1" font-size="3.42" text-anchor="start" fill="#555" font-weight="normal" font-style="normal" >a : o__Pasteurellales</text>
<rect x="176.3" y="11.07" width="3.7" height="1.5" fill="#E24A3B" />
<text x="181.9" y="12.97" font-size="3.42" text-anchor="start" fill="#555" font-weight="normal" font-style="normal" >b : o__Propionibacteriales</text>
<rect x="176.3" y="15.94" width="3.7" height="1.5" fill="#E24A3B" />
<text x="181.9" y="17.84" font-size="3.42" text-anchor="start" fill="#555" font-weight="normal" font-style="normal" >c : f__Christensenellaceae</text>
<rect x="176.3" y="20.81" width="3.7" height="1.5" fill="#E24A3B" />
<text x="181.9" y="22.71" font-size="3.42" text-anchor="start" fill="#555" font-weight="normal" font-style="normal" >d : f__Comamonadaceae</text>
<rect x="176.3" y="25.68" width="3.7" height="1.5" fill="#E24A3B" />
<text x="181.9" y="27.58" font-size="3.42" text-anchor="start" fill="#555" font-weight="normal" font-style="normal" >e : f__Leuconostocaceae</text>
<rect x="176.3" y="30.55" width="3.7" height="1.5" fill="#E24A3B" />
<text x="181.9" y="32.45" font-size="3.42" text-anchor="start" fill="#555" font-weight="normal" font-style="normal" >f : f__Pasteurellaceae</text>
<rect x="176.3" y="35.42" width="3.7" height="1.5" fill="#E24A3B" />
<text x="181.9" y="37.32" font-size="3.42" text-anchor="start" fill="#555" font-weight="normal" font-style="normal" >g : f__Propionibacteriaceae</text>
<rect x="176.3" y="40.29" width="3.7" height="1.5" fill="#3EB5D2" />
<text x="181.9" y="42.19" font-size="3.42" text-anchor="start" fill="#555" font-weight="normal" font-style="normal" >h : g__Anaerostipes</text>
<rect x="176.3" y="45.16" width="3.7" height="1.5" fill="#E24A3B" />
<text x="181.9" y="47.06" font-size="3.42" text-anchor="start" fill="#555" font-weight="normal" font-style="normal" >i : g__Christensenella</text>
<rect x="176.3" y="50.03" width="3.7" height="1.5" fill="#E24A3B" />
<text x="181.9" y="51.93" font-size="3.42" text-anchor="start" fill="#555" font-weight="normal" font-style="normal" >j : g__Comamonas</text>
<rect x="176.3" y="54.9" width="3.7" height="1.5" fill="#E24A3B" />
<text x="181.9" y="56.8" font-size="3.42" text-anchor="start" fill="#555" font-weight="normal" font-style="normal" >k : g__Gordonibacter</text>
<rect x="176.3" y="59.77" width="3.7" height="1.5" fill="#E24A3B" />
<text x="181.9" y="61.67" font-size="3.42" text-anchor="start" fill="#555" font-weight="normal" font-style="normal" >l : g__Haemophilus</text>
<rect x="176.3" y="64.64" width="3.7" height="1.5" fill="#E24A3B" />
<text x="181.9" y="66.54" font-size="3.42" text-anchor="start" fill="#555" font-weight="normal" font-style="normal" >m : g__Oribacterium</text>
<rect x="176.3" y="69.51" width="3.7" height="1.5" fill="#E24A3B" />
<text x="181.9" y="71.41" font-size="3.42" text-anchor="start" fill="#555" font-weight="normal" font-style="normal" >n : g__Raoultella</text>
<rect x="176.3" y="74.38" width="3.7" height="1.5" fill="#3EB5D2" />
<text x="181.9" y="76.28" font-size="3.42" text-anchor="start" fill="#555" font-weight="normal" font-style="normal" >o : g__Ruminococcaceae_unclassified</text>
<rect x="176.3" y="79.25" width="3.7" height="1.5" fill="#E24A3B" />
<text x="181.9" y="81.15" font-size="3.42" text-anchor="start" fill="#555" font-weight="normal" font-style="normal" >p : g__Ruthenibacterium</text>
<rect x="176.3" y="84.12" width="3.7" height="1.5" fill="#E24A3B" />
<text x="181.9" y="86.02" font-size="3.42" text-anchor="start" fill="#555" font-weight="normal" font-style="normal" >q : g__Weissella</text>
<rect x="176.3" y="88.99" width="3.7" height="1.5" fill="#3EB5D2" />
<text x="181.9" y="90.89" font-size="3.42" text-anchor="start" fill="#555" font-weight="normal" font-style="normal" >r : s__Anaerostipes_hadrus</text>
<rect x="176.3" y="93.86" width="3.7" height="1.5" fill="#3EB5D2" />
<text x="181.9" y="95.76" font-size="3.42" text-anchor="start" fill="#555" font-weight="normal" font-style="normal" >s : s__Bacteroides_stercoris</text>
<rect x="176.3" y="98.73" width="3.7" height="1.5" fill="#3EB5D2" />
<text x="181.9" y="100.63" font-size="3.42" text-anchor="start" fill="#555" font-weight="normal" font-style="normal" >t : s__Bacteroides_thetaiotaomicron</text>
<rect x="176.3" y="103.6" width="3.7" height="1.5" fill="#E24A3B" />
<text x="181.9" y="105.5" font-size="3.42" text-anchor="start" fill="#555" font-weight="normal" font-style="normal" >u : s__Bifidobacterium_dentium</text>
<rect x="176.3" y="108.47" width="3.7" height="1.5" fill="#E24A3B" />
<text x="181.9" y="110.37" font-size="3.42" text-anchor="start" fill="#555" font-weight="normal" font-style="normal" >v : s__Campylobacter_gracilis</text>
<rect x="176.3" y="113.34" width="3.7" height="1.5" fill="#E24A3B" />
<text x="181.9" y="115.24" font-size="3.42" text-anchor="start" fill="#555" font-weight="normal" font-style="normal" >w : s__Christensenella_minuta</text>
<rect x="176.3" y="118.21" width="3.7" height="1.5" fill="#E24A3B" />
<text x="181.9" y="120.11" font-size="3.42" text-anchor="start" fill="#555" font-weight="normal" font-style="normal" >x : s__Comamonas_kerstersii</text>
<rect x="176.3" y="123.08" width="3.7" height="1.5" fill="#E24A3B" />
<text x="181.9" y="124.98" font-size="3.42" text-anchor="start" fill="#555" font-weight="normal" font-style="normal" >y : s__Coprococcus_eutactus</text>
<rect x="176.3" y="127.95" width="3.7" height="1.5" fill="#E24A3B" />
<text x="181.9" y="129.85" font-size="3.42" text-anchor="start" fill="#555" font-weight="normal" font-style="normal" >z : s__Firmicutes_bacterium_CAG_145</text>
<rect x="176.3" y="132.82" width="3.7" height="1.5" fill="#E24A3B" />
<text x="181.9" y="134.72" font-size="3.42" text-anchor="start" fill="#555" font-weight="normal" font-style="normal" >a1 : s__Gordonibacter_pamelaeae</text>
<rect x="176.3" y="137.69" width="3.7" height="1.5" fill="#E24A3B" />
<text x="181.9" y="139.59" font-size="3.42" text-anchor="start" fill="#555" font-weight="normal" font-style="normal" >b1 : s__Haemophilus_parainfluenzae</text>
<rect x="176.3" y="142.56" width="3.7" height="1.5" fill="#E24A3B" />
<text x="181.9" y="144.46" font-size="3.42" text-anchor="start" fill="#555" font-weight="normal" font-style="normal" >c1 : s__Oribacterium_parvum</text>
<rect x="176.3" y="147.43" width="3.7" height="1.5" fill="#E24A3B" />
<text x="181.9" y="149.33" font-size="3.42" text-anchor="start" fill="#555" font-weight="normal" font-style="normal" >d1 : s__Prevotella_copri</text>
<rect x="176.3" y="152.3" width="3.7" height="1.5" fill="#E24A3B" />
<text x="181.9" y="154.2" font-size="3.42" text-anchor="start" fill="#555" font-weight="normal" font-style="normal" >e1 : s__Raoultella_ornithinolytica</text>
<rect x="176.3" y="157.17" width="3.7" height="1.5" fill="#E24A3B" />
<text x="181.9" y="159.07" font-size="3.42" text-anchor="start" fill="#555" font-weight="normal" font-style="normal" >f1 : s__Ruthenibacterium_lactatiformans</text>
<rect x="176.3" y="162.04" width="3.7" height="1.5" fill="#E24A3B" />
<text x="181.9" y="163.94" font-size="3.42" text-anchor="start" fill="#555" font-weight="normal" font-style="normal" >g1 : s__Streptococcus_sanguinis</text>
<circle cx="297.4" cy="84.9" r="30" fill="#EA7A6C" />
<circle cx="328" cy="84.9" r="30" fill="#7ECBDE" fill-opacity="1"/>
<clipPath id="vc"><circle cx="297.4" cy="84.9" r="30"/></clipPath>
<circle cx="328" cy="84.9" r="30" fill="#79A8B4" clip-path="url(#vc)"/>
<circle cx="248.4" cy="42.2" r="1.9" fill="#EA7A6C" />
<circle cx="248.4" cy="52.8" r="1.9" fill="#7ECBDE" />
<text x="252" y="44.3" font-size="6.05" text-anchor="start" fill="#222" font-weight="normal" font-style="normal" stroke="#222" stroke-width="0.09" >Non-obesity</text>
<text x="252" y="54.9" font-size="6.05" text-anchor="start" fill="#222" font-weight="normal" font-style="normal" stroke="#222" stroke-width="0.09" >Obesity</text>
<text x="304.3" y="51.1" font-size="6.1" text-anchor="start" fill="#222" font-weight="normal" font-style="normal" stroke="#222" stroke-width="0.09" >Venn</text>
<text x="282.5" y="85.2" font-size="4.1" text-anchor="middle" fill="#111" font-weight="normal" font-style="normal" >67</text>
<text x="312.6" y="85.2" font-size="4.1" text-anchor="middle" fill="#111" font-weight="normal" font-style="normal" >252</text>
<text x="343.3" y="85.2" font-size="4.1" text-anchor="middle" fill="#111" font-weight="normal" font-style="normal" >189</text>
<text x="290.6" y="122.7" font-size="6.1" text-anchor="middle" fill="#222" font-weight="normal" font-style="normal" stroke="#222" stroke-width="0.09" >Non-obesity</text>
<text x="333" y="122.7" font-size="6.1" text-anchor="middle" fill="#222" font-weight="normal" font-style="normal" stroke="#222" stroke-width="0.09" >Obesity</text>
<text x="471.5" y="25.8" font-size="5.2" text-anchor="middle" fill="#222" font-weight="normal" font-style="normal" stroke="#222" stroke-width="0.09" >Non_obesity_VS_Obesity.volcano</text>
<rect x="379.5" y="33.4" width="164.70" height="75.50" fill="none" stroke="#111" stroke-width="1"/>
<line x1="377.9" y1="108.9" x2="379.5" y2="108.9" stroke="#222" stroke-width="0.5" />
<text x="377.5" y="110.1" font-size="3.4" text-anchor="end" fill="#333" font-weight="normal" font-style="normal" >0</text>
<line x1="377.9" y1="103.51" x2="379.5" y2="103.51" stroke="#222" stroke-width="0.5" />
<text x="377.5" y="104.71" font-size="3.4" text-anchor="end" fill="#333" font-weight="normal" font-style="normal" >2</text>
<line x1="377.9" y1="98.11" x2="379.5" y2="98.11" stroke="#222" stroke-width="0.5" />
<text x="377.5" y="99.31" font-size="3.4" text-anchor="end" fill="#333" font-weight="normal" font-style="normal" >4</text>
<line x1="377.9" y1="92.72" x2="379.5" y2="92.72" stroke="#222" stroke-width="0.5" />
<text x="377.5" y="93.92" font-size="3.4" text-anchor="end" fill="#333" font-weight="normal" font-style="normal" >6</text>
<line x1="377.9" y1="87.33" x2="379.5" y2="87.33" stroke="#222" stroke-width="0.5" />
<text x="377.5" y="88.53" font-size="3.4" text-anchor="end" fill="#333" font-weight="normal" font-style="normal" >8</text>
<line x1="377.9" y1="81.94" x2="379.5" y2="81.94" stroke="#222" stroke-width="0.5" />
<text x="377.5" y="83.14" font-size="3.4" text-anchor="end" fill="#333" font-weight="normal" font-style="normal" >10</text>
<line x1="377.9" y1="76.54" x2="379.5" y2="76.54" stroke="#222" stroke-width="0.5" />
<text x="377.5" y="77.74" font-size="3.4" text-anchor="end" fill="#333" font-weight="normal" font-style="normal" >12</text>
<line x1="377.9" y1="71.15" x2="379.5" y2="71.15" stroke="#222" stroke-width="0.5" />
<text x="377.5" y="72.35" font-size="3.4" text-anchor="end" fill="#333" font-weight="normal" font-style="normal" >14</text>
<line x1="377.9" y1="65.76" x2="379.5" y2="65.76" stroke="#222" stroke-width="0.5" />
<text x="377.5" y="66.96" font-size="3.4" text-anchor="end" fill="#333" font-weight="normal" font-style="normal" >16</text>
<line x1="377.9" y1="60.36" x2="379.5" y2="60.36" stroke="#222" stroke-width="0.5" />
<text x="377.5" y="61.56" font-size="3.4" text-anchor="end" fill="#333" font-weight="normal" font-style="normal" >18</text>
<line x1="377.9" y1="54.97" x2="379.5" y2="54.97" stroke="#222" stroke-width="0.5" />
<text x="377.5" y="56.17" font-size="3.4" text-anchor="end" fill="#333" font-weight="normal" font-style="normal" >20</text>
<line x1="377.9" y1="49.58" x2="379.5" y2="49.58" stroke="#222" stroke-width="0.5" />
<text x="377.5" y="50.78" font-size="3.4" text-anchor="end" fill="#333" font-weight="normal" font-style="normal" >22</text>
<line x1="377.9" y1="44.19" x2="379.5" y2="44.19" stroke="#222" stroke-width="0.5" />
<text x="377.5" y="45.39" font-size="3.4" text-anchor="end" fill="#333" font-weight="normal" font-style="normal" >24</text>
<line x1="377.9" y1="38.79" x2="379.5" y2="38.79" stroke="#222" stroke-width="0.5" />
<text x="377.5" y="39.99" font-size="3.4" text-anchor="end" fill="#333" font-weight="normal" font-style="normal" >26</text>
<line x1="377.9" y1="33.4" x2="379.5" y2="33.4" stroke="#222" stroke-width="0.5" />
<text x="377.5" y="34.6" font-size="3.4" text-anchor="end" fill="#333" font-weight="normal" font-style="normal" >28</text>
<line x1="379.44" y1="108.9" x2="379.44" y2="110.5" stroke="#222" stroke-width="0.5" />
<text x="379.44" y="113.8" font-size="3.4" text-anchor="middle" fill="#333" font-weight="normal" font-style="normal" >-12</text>
<line x1="391.2" y1="108.9" x2="391.2" y2="110.5" stroke="#222" stroke-width="0.5" />
<text x="391.2" y="113.8" font-size="3.4" text-anchor="middle" fill="#333" font-weight="normal" font-style="normal" >-10</text>
<line x1="402.96" y1="108.9" x2="402.96" y2="110.5" stroke="#222" stroke-width="0.5" />
<text x="402.96" y="113.8" font-size="3.4" text-anchor="middle" fill="#333" font-weight="normal" font-style="normal" >-8</text>
<line x1="414.72" y1="108.9" x2="414.72" y2="110.5" stroke="#222" stroke-width="0.5" />
<text x="414.72" y="113.8" font-size="3.4" text-anchor="middle" fill="#333" font-weight="normal" font-style="normal" >-6</text>
<line x1="426.48" y1="108.9" x2="426.48" y2="110.5" stroke="#222" stroke-width="0.5" />
<text x="426.48" y="113.8" font-size="3.4" text-anchor="middle" fill="#333" font-weight="normal" font-style="normal" >-4</text>
<line x1="438.24" y1="108.9" x2="438.24" y2="110.5" stroke="#222" stroke-width="0.5" />
<text x="438.24" y="113.8" font-size="3.4" text-anchor="middle" fill="#333" font-weight="normal" font-style="normal" >-2</text>
<line x1="450" y1="108.9" x2="450" y2="110.5" stroke="#222" stroke-width="0.5" />
<text x="450" y="113.8" font-size="3.4" text-anchor="middle" fill="#333" font-weight="normal" font-style="normal" >0</text>
<line x1="461.76" y1="108.9" x2="461.76" y2="110.5" stroke="#222" stroke-width="0.5" />
<text x="461.76" y="113.8" font-size="3.4" text-anchor="middle" fill="#333" font-weight="normal" font-style="normal" >2</text>
<line x1="473.52" y1="108.9" x2="473.52" y2="110.5" stroke="#222" stroke-width="0.5" />
<text x="473.52" y="113.8" font-size="3.4" text-anchor="middle" fill="#333" font-weight="normal" font-style="normal" >4</text>
<line x1="485.28" y1="108.9" x2="485.28" y2="110.5" stroke="#222" stroke-width="0.5" />
<text x="485.28" y="113.8" font-size="3.4" text-anchor="middle" fill="#333" font-weight="normal" font-style="normal" >6</text>
<line x1="497.04" y1="108.9" x2="497.04" y2="110.5" stroke="#222" stroke-width="0.5" />
<text x="497.04" y="113.8" font-size="3.4" text-anchor="middle" fill="#333" font-weight="normal" font-style="normal" >8</text>
<line x1="508.8" y1="108.9" x2="508.8" y2="110.5" stroke="#222" stroke-width="0.5" />
<text x="508.8" y="113.8" font-size="3.4" text-anchor="middle" fill="#333" font-weight="normal" font-style="normal" >10</text>
<line x1="520.56" y1="108.9" x2="520.56" y2="110.5" stroke="#222" stroke-width="0.5" />
<text x="520.56" y="113.8" font-size="3.4" text-anchor="middle" fill="#333" font-weight="normal" font-style="normal" >12</text>
<line x1="532.32" y1="108.9" x2="532.32" y2="110.5" stroke="#222" stroke-width="0.5" />
<text x="532.32" y="113.8" font-size="3.4" text-anchor="middle" fill="#333" font-weight="normal" font-style="normal" >14</text>
<line x1="544.08" y1="108.9" x2="544.08" y2="110.5" stroke="#222" stroke-width="0.5" />
<text x="544.08" y="113.8" font-size="3.4" text-anchor="middle" fill="#333" font-weight="normal" font-style="normal" >16</text>
<text x="462" y="118.5" font-size="4.0" text-anchor="middle" fill="#333" font-weight="normal" font-style="normal" >log2(FoldChange)</text>
<text x="371.3" y="73.9" font-size="3.1" fill="#333" text-anchor="middle" transform="rotate(-90 371.3 73.9)">-log10(Pvalue)</text>
<line x1="444.12" y1="33.4" x2="444.12" y2="108.9" stroke="#111" stroke-width="1.0" stroke-dasharray="2.6,1.4"/>
<line x1="455.88" y1="33.4" x2="455.88" y2="108.9" stroke="#111" stroke-width="1.0" stroke-dasharray="2.6,1.4"/>
<circle cx="379.8" cy="42.4" r="0.85" fill="#E8513F" />
<circle cx="380.2" cy="44.2" r="0.85" fill="#E8513F" />
<circle cx="380.5" cy="45.5" r="0.85" fill="#E8513F" />
<circle cx="379.8" cy="46.4" r="0.85" fill="#E8513F" />
<circle cx="384.4" cy="57.6" r="0.85" fill="#E8513F" />
<circle cx="387.5" cy="58.7" r="0.85" fill="#E8513F" />
<circle cx="392.2" cy="58.2" r="0.85" fill="#E8513F" />
<circle cx="394" cy="63.6" r="0.85" fill="#E8513F" />
<circle cx="396.2" cy="66.4" r="0.85" fill="#E8513F" />
<circle cx="399.5" cy="67.3" r="0.85" fill="#E8513F" />
<circle cx="400.2" cy="68.2" r="0.85" fill="#E8513F" />
<circle cx="400.7" cy="69.1" r="0.85" fill="#E8513F" />
<circle cx="401.3" cy="70" r="0.85" fill="#E8513F" />
<circle cx="402" cy="70.9" r="0.85" fill="#E8513F" />
<circle cx="402.5" cy="72.7" r="0.85" fill="#E8513F" />
<circle cx="401.6" cy="68.5" r="0.85" fill="#E8513F" />
<circle cx="402.9" cy="64.5" r="0.85" fill="#E8513F" />
<circle cx="407.1" cy="72.2" r="0.85" fill="#E8513F" />
<circle cx="409.8" cy="77.6" r="0.85" fill="#E8513F" />
<circle cx="410.7" cy="78.7" r="0.85" fill="#E8513F" />
<circle cx="411.6" cy="79.5" r="0.85" fill="#E8513F" />
<circle cx="412.5" cy="80.9" r="0.85" fill="#E8513F" />
<circle cx="413.5" cy="82.4" r="0.85" fill="#E8513F" />
<circle cx="414.4" cy="83.1" r="0.85" fill="#E8513F" />
<circle cx="415.8" cy="82.4" r="0.85" fill="#E8513F" />
<circle cx="415.3" cy="83.6" r="0.85" fill="#E8513F" />
<circle cx="410.7" cy="90" r="0.85" fill="#E8513F" />
<circle cx="420.2" cy="85.5" r="0.85" fill="#E8513F" />
<circle cx="421.3" cy="86.7" r="0.85" fill="#E8513F" />
<circle cx="424.4" cy="91.5" r="0.85" fill="#E8513F" />
<circle cx="425.6" cy="92.2" r="0.85" fill="#E8513F" />
<circle cx="428" cy="93.6" r="0.85" fill="#E8513F" />
<circle cx="430.7" cy="95.5" r="0.85" fill="#E8513F" />
<circle cx="422.5" cy="98.2" r="0.85" fill="#E8513F" />
<circle cx="424.4" cy="97.6" r="0.85" fill="#E8513F" />
<circle cx="432.2" cy="97.6" r="0.85" fill="#E8513F" />
<circle cx="429.8" cy="101.8" r="0.85" fill="#E8513F" />
<circle cx="432.5" cy="103.6" r="0.85" fill="#E8513F" />
<circle cx="434.4" cy="104.2" r="0.85" fill="#E8513F" />
<circle cx="436.2" cy="104.5" r="0.85" fill="#E8513F" />
<circle cx="438.9" cy="102.4" r="0.85" fill="#E8513F" />
<circle cx="439.8" cy="104.5" r="0.85" fill="#E8513F" />
<circle cx="441.6" cy="104.9" r="0.85" fill="#E8513F" />
<circle cx="398.5" cy="65.5" r="0.85" fill="#E8513F" />
<circle cx="403" cy="69.8" r="0.85" fill="#E8513F" />
<circle cx="408.6" cy="76.5" r="0.85" fill="#E8513F" />
<circle cx="536.06" cy="34.71" r="0.85" fill="#1E9C8E" />
<circle cx="521.37" cy="53.54" r="0.85" fill="#1E9C8E" />
<circle cx="516.29" cy="58.63" r="0.85" fill="#1E9C8E" />
<circle cx="512.52" cy="62.4" r="0.85" fill="#1E9C8E" />
<circle cx="508.19" cy="65.79" r="0.85" fill="#1E9C8E" />
<circle cx="501.78" cy="71.82" r="0.85" fill="#1E9C8E" />
<circle cx="501.78" cy="74.26" r="0.85" fill="#1E9C8E" />
<circle cx="498.39" cy="76.71" r="0.85" fill="#1E9C8E" />
<circle cx="496.13" cy="77.47" r="0.85" fill="#1E9C8E" />
<circle cx="493.68" cy="76.71" r="0.85" fill="#1E9C8E" />
<circle cx="493.31" cy="79.92" r="0.85" fill="#1E9C8E" />
<circle cx="490.48" cy="81.8" r="0.85" fill="#1E9C8E" />
<circle cx="488.03" cy="83.68" r="0.85" fill="#1E9C8E" />
<circle cx="486.71" cy="84.06" r="0.85" fill="#1E9C8E" />
<circle cx="488.6" cy="88.39" r="0.85" fill="#1E9C8E" />
<circle cx="490.86" cy="92.16" r="0.85" fill="#1E9C8E" />
<circle cx="496.88" cy="88.01" r="0.85" fill="#1E9C8E" />
<circle cx="482.95" cy="88.39" r="0.85" fill="#1E9C8E" />
<circle cx="484.26" cy="93.1" r="0.85" fill="#1E9C8E" />
<circle cx="483.32" cy="95.55" r="0.85" fill="#1E9C8E" />
<circle cx="481.82" cy="100.07" r="0.85" fill="#1E9C8E" />
<circle cx="479.56" cy="94.98" r="0.85" fill="#1E9C8E" />
<circle cx="477.67" cy="91.22" r="0.85" fill="#1E9C8E" />
<circle cx="476.73" cy="92.16" r="0.85" fill="#1E9C8E" />
<circle cx="475.79" cy="93.1" r="0.85" fill="#1E9C8E" />
<circle cx="474.85" cy="94.04" r="0.85" fill="#1E9C8E" />
<circle cx="473.9" cy="94.42" r="0.85" fill="#1E9C8E" />
<circle cx="471.08" cy="95.93" r="0.85" fill="#1E9C8E" />
<circle cx="470.14" cy="98.75" r="0.85" fill="#1E9C8E" />
<circle cx="472.02" cy="97.81" r="0.85" fill="#1E9C8E" />
<circle cx="468.25" cy="100.07" r="0.85" fill="#1E9C8E" />
<circle cx="466.37" cy="99.32" r="0.85" fill="#1E9C8E" />
<circle cx="465.43" cy="100.63" r="0.85" fill="#1E9C8E" />
<circle cx="463.54" cy="101.58" r="0.85" fill="#1E9C8E" />
<circle cx="462.6" cy="102.52" r="0.85" fill="#1E9C8E" />
<circle cx="464.49" cy="103.46" r="0.85" fill="#1E9C8E" />
<circle cx="466.37" cy="104.4" r="0.85" fill="#1E9C8E" />
<circle cx="468.25" cy="103.08" r="0.85" fill="#1E9C8E" />
<circle cx="470.14" cy="103.46" r="0.85" fill="#1E9C8E" />
<circle cx="472.96" cy="102.52" r="0.85" fill="#1E9C8E" />
<circle cx="474.85" cy="101.95" r="0.85" fill="#1E9C8E" />
<circle cx="476.73" cy="97.81" r="0.85" fill="#1E9C8E" />
<circle cx="478.61" cy="96.87" r="0.85" fill="#1E9C8E" />
<circle cx="457.89" cy="105.34" r="0.85" fill="#1E9C8E" />
<circle cx="458.84" cy="106.29" r="0.85" fill="#1E9C8E" />
<circle cx="460.72" cy="105.72" r="0.85" fill="#1E9C8E" />
<circle cx="461.66" cy="106.85" r="0.85" fill="#1E9C8E" />
<circle cx="459.78" cy="104.97" r="0.85" fill="#1E9C8E" />
<circle cx="463.54" cy="104.4" r="0.85" fill="#1E9C8E" />
<circle cx="467.31" cy="101.58" r="0.85" fill="#1E9C8E" />
<circle cx="472.96" cy="99.69" r="0.85" fill="#1E9C8E" />
<circle cx="462.23" cy="103.84" r="0.85" fill="#1E9C8E" />
<circle cx="460.34" cy="104.4" r="0.85" fill="#1E9C8E" />
<circle cx="456.58" cy="105.72" r="0.85" fill="#1E9C8E" />
<circle cx="444.45" cy="106.87" r="0.75" fill="#54B8DD" />
<circle cx="447.75" cy="107.78" r="0.75" fill="#54B8DD" />
<circle cx="454.14" cy="106.56" r="0.75" fill="#54B8DD" />
<circle cx="438.83" cy="105.88" r="0.75" fill="#54B8DD" />
<circle cx="444.98" cy="106.57" r="0.75" fill="#54B8DD" />
<circle cx="463.39" cy="104.81" r="0.75" fill="#54B8DD" />
<circle cx="459.41" cy="105.81" r="0.75" fill="#54B8DD" />
<circle cx="454.48" cy="106.59" r="0.75" fill="#54B8DD" />
<circle cx="454.37" cy="107.62" r="0.75" fill="#54B8DD" />
<circle cx="451.58" cy="108.14" r="0.75" fill="#54B8DD" />
<circle cx="455.29" cy="106.27" r="0.75" fill="#54B8DD" />
<circle cx="457.46" cy="106.46" r="0.75" fill="#54B8DD" />
<circle cx="446.03" cy="106.55" r="0.75" fill="#54B8DD" />
<circle cx="460.14" cy="105.63" r="0.75" fill="#54B8DD" />
<circle cx="456.47" cy="107.11" r="0.75" fill="#54B8DD" />
<circle cx="456.35" cy="107.2" r="0.75" fill="#54B8DD" />
<circle cx="448.37" cy="108.21" r="0.75" fill="#54B8DD" />
<circle cx="449.62" cy="108.3" r="0.75" fill="#54B8DD" />
<circle cx="460.47" cy="105.02" r="0.75" fill="#54B8DD" />
<circle cx="441.9" cy="105.78" r="0.75" fill="#54B8DD" />
<circle cx="462.64" cy="104.95" r="0.75" fill="#54B8DD" />
<circle cx="454.17" cy="106.88" r="0.75" fill="#54B8DD" />
<circle cx="451.18" cy="107.74" r="0.75" fill="#54B8DD" />
<circle cx="447.27" cy="107.64" r="0.75" fill="#54B8DD" />
<circle cx="453.11" cy="107.99" r="0.75" fill="#54B8DD" />
<circle cx="455.55" cy="107.41" r="0.75" fill="#54B8DD" />
<circle cx="459.91" cy="106.41" r="0.75" fill="#54B8DD" />
<circle cx="455.28" cy="106.41" r="0.75" fill="#54B8DD" />
<circle cx="460.02" cy="106.35" r="0.75" fill="#54B8DD" />
<circle cx="461.12" cy="105.52" r="0.75" fill="#54B8DD" />
<circle cx="456.35" cy="106.21" r="0.75" fill="#54B8DD" />
<circle cx="459.29" cy="105.98" r="0.75" fill="#54B8DD" />
<circle cx="445.62" cy="106.49" r="0.75" fill="#54B8DD" />
<circle cx="459.85" cy="106.42" r="0.75" fill="#54B8DD" />
<circle cx="440.71" cy="106.3" r="0.75" fill="#54B8DD" />
<circle cx="448.76" cy="107.4" r="0.75" fill="#54B8DD" />
<circle cx="445.85" cy="107.54" r="0.75" fill="#54B8DD" />
<circle cx="460.32" cy="104.98" r="0.75" fill="#54B8DD" />
<circle cx="453.86" cy="106.6" r="0.75" fill="#54B8DD" />
<circle cx="456.46" cy="106.35" r="0.75" fill="#54B8DD" />
<circle cx="460.52" cy="106.24" r="0.75" fill="#54B8DD" />
<circle cx="451.14" cy="108.3" r="0.75" fill="#54B8DD" />
<circle cx="446.24" cy="106.67" r="0.75" fill="#54B8DD" />
<circle cx="453.49" cy="106.67" r="0.75" fill="#54B8DD" />
<circle cx="443.43" cy="106.43" r="0.75" fill="#54B8DD" />
<circle cx="453.76" cy="106.78" r="0.75" fill="#54B8DD" />
<circle cx="439.56" cy="106.11" r="0.75" fill="#54B8DD" />
<circle cx="446.35" cy="107.93" r="0.75" fill="#54B8DD" />
<circle cx="460.92" cy="105.3" r="0.75" fill="#54B8DD" />
<circle cx="450.01" cy="108.23" r="0.75" fill="#54B8DD" />
<circle cx="454.6" cy="107.18" r="0.75" fill="#54B8DD" />
<circle cx="452.48" cy="107.75" r="0.75" fill="#54B8DD" />
<circle cx="462.02" cy="105.21" r="0.75" fill="#54B8DD" />
<circle cx="449.28" cy="108.3" r="0.75" fill="#54B8DD" />
<circle cx="444.44" cy="106.53" r="0.75" fill="#54B8DD" />
<circle cx="462.94" cy="104.99" r="0.75" fill="#54B8DD" />
<circle cx="452.21" cy="106.96" r="0.75" fill="#54B8DD" />
<circle cx="448.88" cy="108.03" r="0.75" fill="#54B8DD" />
<circle cx="439" cy="105.61" r="0.75" fill="#54B8DD" />
<circle cx="454.3" cy="106.51" r="0.75" fill="#54B8DD" />
<circle cx="454.18" cy="107.11" r="0.75" fill="#54B8DD" />
<circle cx="455.48" cy="106.62" r="0.75" fill="#54B8DD" />
<circle cx="456.17" cy="106.99" r="0.75" fill="#54B8DD" />
<circle cx="439.05" cy="104.85" r="0.75" fill="#54B8DD" />
<circle cx="455.4" cy="107.5" r="0.75" fill="#54B8DD" />
<circle cx="444.78" cy="106.83" r="0.75" fill="#54B8DD" />
<circle cx="453.32" cy="107.12" r="0.75" fill="#54B8DD" />
<circle cx="447.6" cy="107.34" r="0.75" fill="#54B8DD" />
<circle cx="447.73" cy="107.77" r="0.75" fill="#54B8DD" />
<circle cx="446.01" cy="107.03" r="0.75" fill="#54B8DD" />
<circle cx="457.81" cy="105.59" r="0.75" fill="#54B8DD" />
<circle cx="452.73" cy="107.85" r="0.75" fill="#54B8DD" />
<circle cx="446.25" cy="106.87" r="0.75" fill="#54B8DD" />
<circle cx="458.6" cy="105.69" r="0.75" fill="#54B8DD" />
<circle cx="443.18" cy="106.41" r="0.75" fill="#54B8DD" />
<circle cx="435.5" cy="106.2" r="0.75" fill="#54B8DD" />
<text x="407.5" y="106.4" font-size="5.8" text-anchor="start" fill="#333" font-weight="normal" font-style="italic" stroke="#333" stroke-width="0.09" >P. copri</text>
<line x1="427.5" y1="104.6" x2="436" y2="104.6" stroke="#333" stroke-width="0.5" />
<path d="M436,104.6 l-1.5,-0.8 v1.6z" fill="#333"/>
<circle cx="550.7" cy="35.8" r="1.8" fill="#E8513F" />
<text x="554.8" y="37.8" font-size="6.2" text-anchor="start" fill="#111" font-weight="normal" font-style="normal" stroke="#111" stroke-width="0.09" >Non-obesity</text>
<circle cx="550.7" cy="43.6" r="1.8" fill="#54B8DD" />
<text x="554.8" y="45.6" font-size="6.2" text-anchor="start" fill="#111" font-weight="normal" font-style="normal" stroke="#111" stroke-width="0.09" >nosig</text>
<circle cx="550.7" cy="51.5" r="1.8" fill="#1E9C8E" />
<text x="554.8" y="53.5" font-size="6.2" text-anchor="start" fill="#111" font-weight="normal" font-style="normal" stroke="#111" stroke-width="0.09" >Obesity</text>
<text x="169.4" y="189.5" font-size="7.33" text-anchor="middle" fill="#111" font-weight="normal" font-style="normal" stroke="#111" stroke-width="0.09" >Wilcoxon rank-sum test bar plot on Species level</text>
<text x="203.3" y="202" font-size="5.3" text-anchor="middle" fill="#111" font-weight="normal" font-style="normal" stroke="#111" stroke-width="0.09" >95% confidence intervals</text>
<rect x="81.6" y="205.4" width="54.3" height="10.3" fill="#DCDCDC" />
<rect x="143.5" y="205.4" width="113.3" height="10.3" fill="#DCDCDC" />
<rect x="81.6" y="205.4" width="25.4" height="5.15" fill="#E4472F" />
<rect x="81.6" y="210.55" width="43.4" height="5.15" fill="#44B5D2" />
<text x="78.2" y="212.1" font-size="4.5" text-anchor="end" fill="#222" font-weight="normal" font-style="normal" >s__Anaerostipes_hadrus</text>
<line x1="78.8" y1="210.55" x2="81.6" y2="210.55" stroke="#222" stroke-width="0.6" />
<line x1="166.2" y1="210.55" x2="236.7" y2="210.55" stroke="#000" stroke-width="0.85" />
<line x1="166.2" y1="209.65" x2="166.2" y2="211.45" stroke="#222" stroke-width="0.5" />
<line x1="236.7" y1="209.65" x2="236.7" y2="211.45" stroke="#222" stroke-width="0.5" />
<circle cx="204.7" cy="210.55" r="0.85" fill="#44B5D2" />
<text x="262.4" y="213.45" font-size="4.55" text-anchor="start" fill="#222" font-weight="normal" font-style="normal" >0.0336</text>
<text x="257.6" y="213.05" font-size="3.6" text-anchor="middle" fill="#222" font-weight="normal" font-style="normal" >*</text>
<rect x="81.6" y="220.81" width="54.3" height="10.3" fill="#DCDCDC" />
<rect x="143.5" y="220.81" width="113.3" height="10.3" fill="#DCDCDC" />
<rect x="81.6" y="220.81" width="14.3" height="5.15" fill="#E4472F" />
<rect x="81.6" y="225.96" width="13.6" height="5.15" fill="#44B5D2" />
<text x="78.2" y="227.51" font-size="4.5" text-anchor="end" fill="#222" font-weight="normal" font-style="normal" >s__Gordonibacter_pamelaeae</text>
<line x1="78.8" y1="225.96" x2="81.6" y2="225.96" stroke="#222" stroke-width="0.6" />
<circle cx="234.9" cy="225.96" r="0.85" fill="#E4472F" />
<text x="262.4" y="228.86" font-size="4.55" text-anchor="start" fill="#222" font-weight="normal" font-style="normal" >0.0173</text>
<text x="257.6" y="228.46" font-size="3.6" text-anchor="middle" fill="#222" font-weight="normal" font-style="normal" >*</text>
<rect x="81.6" y="236.22" width="54.3" height="10.3" fill="#DCDCDC" />
<rect x="143.5" y="236.22" width="113.3" height="10.3" fill="#DCDCDC" />
<rect x="81.6" y="236.22" width="15.3" height="5.15" fill="#E4472F" />
<rect x="81.6" y="241.37" width="13.6" height="5.15" fill="#44B5D2" />
<text x="78.2" y="242.92" font-size="4.5" text-anchor="end" fill="#222" font-weight="normal" font-style="normal" >s__Coprococcus_eutactus</text>
<line x1="78.8" y1="241.37" x2="81.6" y2="241.37" stroke="#222" stroke-width="0.6" />
<line x1="234.4" y1="241.37" x2="241.7" y2="241.37" stroke="#000" stroke-width="0.85" />
<line x1="234.4" y1="240.47" x2="234.4" y2="242.27" stroke="#222" stroke-width="0.5" />
<line x1="241.7" y1="240.47" x2="241.7" y2="242.27" stroke="#222" stroke-width="0.5" />
<circle cx="236.3" cy="241.37" r="0.85" fill="#E4472F" />
<text x="262.4" y="244.27" font-size="4.55" text-anchor="start" fill="#222" font-weight="normal" font-style="normal" >0.0484</text>
<text x="257.6" y="243.87" font-size="3.6" text-anchor="middle" fill="#222" font-weight="normal" font-style="normal" >*</text>
<rect x="81.6" y="251.63" width="54.3" height="10.3" fill="#DCDCDC" />
<rect x="143.5" y="251.63" width="113.3" height="10.3" fill="#DCDCDC" />
<rect x="81.6" y="251.63" width="13.8" height="5.15" fill="#E4472F" />
<rect x="81.6" y="256.78" width="13.4" height="5.15" fill="#44B5D2" />
<text x="78.2" y="258.33" font-size="4.5" text-anchor="end" fill="#222" font-weight="normal" font-style="normal" >s__Haemophilus_parainfluenzae</text>
<line x1="78.8" y1="256.78" x2="81.6" y2="256.78" stroke="#222" stroke-width="0.6" />
<circle cx="234.5" cy="256.78" r="0.85" fill="#E4472F" />
<text x="262.4" y="259.68" font-size="4.55" text-anchor="start" fill="#222" font-weight="normal" font-style="normal" >0.0045</text>
<text x="258.3" y="259.28" font-size="3.6" text-anchor="middle" fill="#222" font-weight="normal" font-style="normal" >**</text>
<rect x="81.6" y="267.04" width="54.3" height="10.3" fill="#DCDCDC" />
<rect x="143.5" y="267.04" width="113.3" height="10.3" fill="#DCDCDC" />
<rect x="81.6" y="267.04" width="14" height="5.15" fill="#E4472F" />
<rect x="81.6" y="272.19" width="13.4" height="5.15" fill="#44B5D2" />
<text x="78.2" y="273.74" font-size="4.5" text-anchor="end" fill="#222" font-weight="normal" font-style="normal" >s__Streptococcus_sanguinis</text>
<line x1="78.8" y1="272.19" x2="81.6" y2="272.19" stroke="#222" stroke-width="0.6" />
<circle cx="234.8" cy="272.19" r="0.85" fill="#E4472F" />
<text x="262.4" y="275.09" font-size="4.55" text-anchor="start" fill="#222" font-weight="normal" font-style="normal" >0.0269</text>
<text x="257.6" y="274.69" font-size="3.6" text-anchor="middle" fill="#222" font-weight="normal" font-style="normal" >*</text>
<rect x="81.6" y="282.45" width="54.3" height="10.3" fill="#DCDCDC" />
<rect x="143.5" y="282.45" width="113.3" height="10.3" fill="#DCDCDC" />
<rect x="81.6" y="282.45" width="15.1" height="5.15" fill="#E4472F" />
<rect x="81.6" y="287.6" width="13.4" height="5.15" fill="#44B5D2" />
<text x="78.2" y="289.15" font-size="4.5" text-anchor="end" fill="#222" font-weight="normal" font-style="normal" >s__Bifidobacterium_dentium</text>
<line x1="78.8" y1="287.6" x2="81.6" y2="287.6" stroke="#222" stroke-width="0.6" />
<line x1="233" y1="287.6" x2="239.6" y2="287.6" stroke="#000" stroke-width="0.85" />
<line x1="233" y1="286.7" x2="233" y2="288.5" stroke="#222" stroke-width="0.5" />
<line x1="239.6" y1="286.7" x2="239.6" y2="288.5" stroke="#222" stroke-width="0.5" />
<circle cx="236.3" cy="287.6" r="0.85" fill="#E4472F" />
<text x="262.4" y="290.5" font-size="4.55" text-anchor="start" fill="#222" font-weight="normal" font-style="normal" >0.0368</text>
<text x="257.6" y="290.1" font-size="3.6" text-anchor="middle" fill="#222" font-weight="normal" font-style="normal" >*</text>
<rect x="81.6" y="297.86" width="54.3" height="10.3" fill="#DCDCDC" />
<rect x="143.5" y="297.86" width="113.3" height="10.3" fill="#DCDCDC" />
<rect x="81.6" y="297.86" width="14" height="5.15" fill="#E4472F" />
<rect x="81.6" y="303.01" width="16.1" height="5.15" fill="#44B5D2" />
<text x="78.2" y="304.56" font-size="4.5" text-anchor="end" fill="#222" font-weight="normal" font-style="normal" >s__Bacteroides_thetaiotaomicron</text>
<line x1="78.8" y1="303.01" x2="81.6" y2="303.01" stroke="#222" stroke-width="0.6" />
<line x1="226.5" y1="303.01" x2="234.2" y2="303.01" stroke="#000" stroke-width="0.85" />
<line x1="226.5" y1="302.11" x2="226.5" y2="303.91" stroke="#222" stroke-width="0.5" />
<line x1="234.2" y1="302.11" x2="234.2" y2="303.91" stroke="#222" stroke-width="0.5" />
<circle cx="230.2" cy="303.01" r="0.85" fill="#44B5D2" />
<text x="262.4" y="305.91" font-size="4.55" text-anchor="start" fill="#222" font-weight="normal" font-style="normal" >0.0183</text>
<text x="257.6" y="305.51" font-size="3.6" text-anchor="middle" fill="#222" font-weight="normal" font-style="normal" >*</text>
<rect x="81.6" y="313.27" width="54.3" height="10.3" fill="#DCDCDC" />
<rect x="143.5" y="313.27" width="113.3" height="10.3" fill="#DCDCDC" />
<rect x="81.6" y="313.27" width="16.5" height="5.15" fill="#E4472F" />
<rect x="81.6" y="318.42" width="13.8" height="5.15" fill="#44B5D2" />
<text x="78.2" y="319.97" font-size="4.5" text-anchor="end" fill="#222" font-weight="normal" font-style="normal" >s__Prevotella_copri</text>
<line x1="78.8" y1="318.42" x2="81.6" y2="318.42" stroke="#222" stroke-width="0.6" />
<line x1="234.6" y1="318.42" x2="243.3" y2="318.42" stroke="#000" stroke-width="0.85" />
<line x1="234.6" y1="317.52" x2="234.6" y2="319.32" stroke="#222" stroke-width="0.5" />
<line x1="243.3" y1="317.52" x2="243.3" y2="319.32" stroke="#222" stroke-width="0.5" />
<circle cx="239" cy="318.42" r="0.85" fill="#E4472F" />
<text x="262.4" y="321.32" font-size="4.55" text-anchor="start" fill="#222" font-weight="normal" font-style="normal" >0.0338</text>
<text x="257.6" y="320.92" font-size="3.6" text-anchor="middle" fill="#222" font-weight="normal" font-style="normal" >*</text>
<rect x="81.6" y="328.68" width="54.3" height="10.3" fill="#DCDCDC" />
<rect x="143.5" y="328.68" width="113.3" height="10.3" fill="#DCDCDC" />
<rect x="81.6" y="328.68" width="13.4" height="5.15" fill="#E4472F" />
<rect x="81.6" y="333.83" width="13.4" height="5.15" fill="#44B5D2" />
<text x="78.2" y="335.38" font-size="4.5" text-anchor="end" fill="#222" font-weight="normal" font-style="normal" >s__Campylobacter_gracilis</text>
<line x1="78.8" y1="333.83" x2="81.6" y2="333.83" stroke="#222" stroke-width="0.6" />
<circle cx="234.6" cy="333.83" r="0.85" fill="#E4472F" />
<text x="262.4" y="336.73" font-size="4.55" text-anchor="start" fill="#222" font-weight="normal" font-style="normal" >0.0484</text>
<text x="257.6" y="336.33" font-size="3.6" text-anchor="middle" fill="#222" font-weight="normal" font-style="normal" >*</text>
<rect x="81.6" y="344.09" width="54.3" height="10.3" fill="#DCDCDC" />
<rect x="143.5" y="344.09" width="113.3" height="10.3" fill="#DCDCDC" />
<rect x="81.6" y="344.09" width="13.4" height="5.15" fill="#E4472F" />
<rect x="81.6" y="349.24" width="13.4" height="5.15" fill="#44B5D2" />
<text x="78.2" y="350.79" font-size="4.5" text-anchor="end" fill="#222" font-weight="normal" font-style="normal" >s__Christensenella_minuta</text>
<line x1="78.8" y1="349.24" x2="81.6" y2="349.24" stroke="#222" stroke-width="0.6" />
<circle cx="234.6" cy="349.24" r="0.85" fill="#E4472F" />
<text x="262.4" y="352.14" font-size="4.55" text-anchor="start" fill="#222" font-weight="normal" font-style="normal" >0.0264</text>
<text x="257.6" y="351.74" font-size="3.6" text-anchor="middle" fill="#222" font-weight="normal" font-style="normal" >*</text>
<rect x="81.6" y="359.5" width="54.3" height="10.3" fill="#DCDCDC" />
<rect x="143.5" y="359.5" width="113.3" height="10.3" fill="#DCDCDC" />
<rect x="81.6" y="359.5" width="13.4" height="5.15" fill="#E4472F" />
<rect x="81.6" y="364.65" width="13.4" height="5.15" fill="#44B5D2" />
<text x="78.2" y="366.2" font-size="4.5" text-anchor="end" fill="#222" font-weight="normal" font-style="normal" >s__Firmicutes_bacterium_CAG_145</text>
<line x1="78.8" y1="364.65" x2="81.6" y2="364.65" stroke="#222" stroke-width="0.6" />
<circle cx="234.6" cy="364.65" r="0.85" fill="#E4472F" />
<text x="262.4" y="367.55" font-size="4.55" text-anchor="start" fill="#222" font-weight="normal" font-style="normal" >0.0484</text>
<text x="257.6" y="367.15" font-size="3.6" text-anchor="middle" fill="#222" font-weight="normal" font-style="normal" >*</text>
<rect x="81.6" y="374.91" width="54.3" height="10.3" fill="#DCDCDC" />
<rect x="143.5" y="374.91" width="113.3" height="10.3" fill="#DCDCDC" />
<rect x="81.6" y="374.91" width="14.3" height="5.15" fill="#E4472F" />
<rect x="81.6" y="380.06" width="29.4" height="5.15" fill="#44B5D2" />
<text x="78.2" y="381.61" font-size="4.5" text-anchor="end" fill="#222" font-weight="normal" font-style="normal" >s__Bacteroides_stercoris</text>
<line x1="78.8" y1="380.06" x2="81.6" y2="380.06" stroke="#222" stroke-width="0.6" />
<line x1="187.5" y1="380.06" x2="228.5" y2="380.06" stroke="#000" stroke-width="0.85" />
<line x1="187.5" y1="379.16" x2="187.5" y2="380.96" stroke="#222" stroke-width="0.5" />
<line x1="228.5" y1="379.16" x2="228.5" y2="380.96" stroke="#222" stroke-width="0.5" />
<circle cx="209.2" cy="380.06" r="0.85" fill="#44B5D2" />
<text x="262.4" y="382.96" font-size="4.55" text-anchor="start" fill="#222" font-weight="normal" font-style="normal" >0.0027</text>
<text x="257.6" y="382.56" font-size="3.6" text-anchor="middle" fill="#222" font-weight="normal" font-style="normal" >*</text>
<rect x="81.6" y="390.32" width="54.3" height="10.3" fill="#DCDCDC" />
<rect x="143.5" y="390.32" width="113.3" height="10.3" fill="#DCDCDC" />
<rect x="81.6" y="390.32" width="13.4" height="5.15" fill="#E4472F" />
<rect x="81.6" y="395.47" width="13.4" height="5.15" fill="#44B5D2" />
<text x="78.2" y="397.02" font-size="4.5" text-anchor="end" fill="#222" font-weight="normal" font-style="normal" >s__Oribacterium_parvum</text>
<line x1="78.8" y1="395.47" x2="81.6" y2="395.47" stroke="#222" stroke-width="0.6" />
<circle cx="234.6" cy="395.47" r="0.85" fill="#E4472F" />
<text x="262.4" y="398.37" font-size="4.55" text-anchor="start" fill="#222" font-weight="normal" font-style="normal" >0.0484</text>
<text x="257.6" y="397.97" font-size="3.6" text-anchor="middle" fill="#222" font-weight="normal" font-style="normal" >*</text>
<rect x="81.6" y="405.73" width="54.3" height="10.3" fill="#DCDCDC" />
<rect x="143.5" y="405.73" width="113.3" height="10.3" fill="#DCDCDC" />
<rect x="81.6" y="405.73" width="13.4" height="5.15" fill="#E4472F" />
<rect x="81.6" y="410.88" width="13.4" height="5.15" fill="#44B5D2" />
<text x="78.2" y="412.43" font-size="4.5" text-anchor="end" fill="#222" font-weight="normal" font-style="normal" >s__Raoultella_ornithinolytica</text>
<line x1="78.8" y1="410.88" x2="81.6" y2="410.88" stroke="#222" stroke-width="0.6" />
<circle cx="234.6" cy="410.88" r="0.85" fill="#E4472F" />
<text x="262.4" y="413.78" font-size="4.55" text-anchor="start" fill="#222" font-weight="normal" font-style="normal" >0.0484</text>
<text x="257.6" y="413.38" font-size="3.6" text-anchor="middle" fill="#222" font-weight="normal" font-style="normal" >*</text>
<rect x="81.6" y="421.14" width="54.3" height="10.3" fill="#DCDCDC" />
<rect x="143.5" y="421.14" width="113.3" height="10.3" fill="#DCDCDC" />
<rect x="81.6" y="421.14" width="13.6" height="5.15" fill="#E4472F" />
<rect x="81.6" y="426.29" width="13.4" height="5.15" fill="#44B5D2" />
<text x="78.2" y="427.84" font-size="4.5" text-anchor="end" fill="#222" font-weight="normal" font-style="normal" >s__Comamonas_kerstersii</text>
<line x1="78.8" y1="426.29" x2="81.6" y2="426.29" stroke="#222" stroke-width="0.6" />
<circle cx="234.6" cy="426.29" r="0.85" fill="#E4472F" />
<text x="262.4" y="429.19" font-size="4.55" text-anchor="start" fill="#222" font-weight="normal" font-style="normal" >0.0484</text>
<text x="257.6" y="428.79" font-size="3.6" text-anchor="middle" fill="#222" font-weight="normal" font-style="normal" >*</text>
<line x1="234.4" y1="203.6" x2="234.4" y2="433" stroke="#666" stroke-width="0.55" stroke-dasharray="2,1.4"/>
<line x1="81.6" y1="203.6" x2="81.6" y2="434.8" stroke="#111" stroke-width="0.9" />
<line x1="81.6" y1="434.3" x2="135.9" y2="434.3" stroke="#111" stroke-width="0.9" />
<line x1="81.6" y1="434.3" x2="81.6" y2="436.3" stroke="#111" stroke-width="0.6" />
<text x="81.6" y="441" font-size="3.6" text-anchor="middle" fill="#222" font-weight="normal" font-style="normal" >-2</text>
<line x1="95.1" y1="434.3" x2="95.1" y2="436.3" stroke="#111" stroke-width="0.6" />
<text x="95.1" y="441" font-size="3.6" text-anchor="middle" fill="#222" font-weight="normal" font-style="normal" >0</text>
<line x1="108.7" y1="434.3" x2="108.7" y2="436.3" stroke="#111" stroke-width="0.6" />
<text x="108.7" y="441" font-size="3.6" text-anchor="middle" fill="#222" font-weight="normal" font-style="normal" >2</text>
<line x1="122.3" y1="434.3" x2="122.3" y2="436.3" stroke="#111" stroke-width="0.6" />
<text x="122.3" y="441" font-size="3.6" text-anchor="middle" fill="#222" font-weight="normal" font-style="normal" >4</text>
<line x1="135.9" y1="434.3" x2="135.9" y2="436.3" stroke="#111" stroke-width="0.6" />
<text x="135.9" y="441" font-size="3.6" text-anchor="middle" fill="#222" font-weight="normal" font-style="normal" >6</text>
<line x1="143.2" y1="434.6" x2="256.7" y2="434.6" stroke="#111" stroke-width="0.9" />
<line x1="143.8" y1="434.6" x2="143.8" y2="436.6" stroke="#111" stroke-width="0.6" />
<text x="143.8" y="441" font-size="3.6" text-anchor="middle" fill="#222" font-weight="normal" font-style="normal" >-8</text>
<line x1="166.4" y1="434.6" x2="166.4" y2="436.6" stroke="#111" stroke-width="0.6" />
<text x="166.4" y="441" font-size="3.6" text-anchor="middle" fill="#222" font-weight="normal" font-style="normal" >-6</text>
<line x1="189" y1="434.6" x2="189" y2="436.6" stroke="#111" stroke-width="0.6" />
<text x="189" y="441" font-size="3.6" text-anchor="middle" fill="#222" font-weight="normal" font-style="normal" >-4</text>
<line x1="211.6" y1="434.6" x2="211.6" y2="436.6" stroke="#111" stroke-width="0.6" />
<text x="211.6" y="441" font-size="3.6" text-anchor="middle" fill="#222" font-weight="normal" font-style="normal" >-2</text>
<line x1="234.2" y1="434.6" x2="234.2" y2="436.6" stroke="#111" stroke-width="0.6" />
<text x="234.2" y="441" font-size="3.6" text-anchor="middle" fill="#222" font-weight="normal" font-style="normal" >0</text>
<line x1="256.8" y1="434.6" x2="256.8" y2="436.6" stroke="#111" stroke-width="0.6" />
<text x="256.8" y="441" font-size="3.6" text-anchor="middle" fill="#222" font-weight="normal" font-style="normal" >2</text>
<text x="110.3" y="449.5" font-size="5.9" text-anchor="middle" fill="#111" font-weight="normal" font-style="normal" stroke="#111" stroke-width="0.09" >Proportions(%)</text>
<text x="198.8" y="449.5" font-size="5.9" text-anchor="middle" fill="#111" font-weight="normal" font-style="normal" stroke="#111" stroke-width="0.09" >Difference between proportions(%)</text>
<rect x="284.8" y="198.3" width="4.1" height="3.9" fill="#E4472F" />
<text x="291.8" y="202.4" font-size="7.27" text-anchor="start" fill="#111" font-weight="normal" font-style="normal" stroke="#111" stroke-width="0.09" >Non-obesity</text>
<rect x="284.8" y="208.1" width="4.1" height="3.9" fill="#44B5D2" />
<text x="291.8" y="212.2" font-size="7.27" text-anchor="start" fill="#111" font-weight="normal" font-style="normal" stroke="#111" stroke-width="0.09" >Obesity</text>
<rect x="33.3" y="310.6" width="250.1" height="15.5" fill="none" stroke="#E8283A" stroke-width="1.1"/>
<line x1="619" y1="27.3" x2="619" y2="113.7" stroke="#222" stroke-width="1.0" />
<line x1="618.6" y1="113.3" x2="676.8" y2="113.3" stroke="#222" stroke-width="1.0" />
<line x1="616.4" y1="113.3" x2="619" y2="113.3" stroke="#222" stroke-width="0.9" />
<text x="615.4" y="115.8" font-size="7.0" text-anchor="end" fill="#222" font-weight="normal" font-style="normal" stroke="#222" stroke-width="0.09" >0</text>
<line x1="616.4" y1="84.75" x2="619" y2="84.75" stroke="#222" stroke-width="0.9" />
<text x="615.4" y="87.25" font-size="7.0" text-anchor="end" fill="#222" font-weight="normal" font-style="normal" stroke="#222" stroke-width="0.09" >1</text>
<line x1="616.4" y1="56.2" x2="619" y2="56.2" stroke="#222" stroke-width="0.9" />
<text x="615.4" y="58.7" font-size="7.0" text-anchor="end" fill="#222" font-weight="normal" font-style="normal" stroke="#222" stroke-width="0.09" >2</text>
<line x1="616.4" y1="27.65" x2="619" y2="27.65" stroke="#222" stroke-width="0.9" />
<text x="615.4" y="30.15" font-size="7.0" text-anchor="end" fill="#222" font-weight="normal" font-style="normal" stroke="#222" stroke-width="0.09" >3</text>
<line x1="636.3" y1="113.3" x2="636.3" y2="116.5" stroke="#222" stroke-width="0.9" />
<line x1="658.2" y1="113.3" x2="658.2" y2="116.5" stroke="#222" stroke-width="0.9" />
<path d="M636.1,29.6 V25.6 H659.4 V29.6" fill="none" stroke="#222" stroke-width="0.9"/>
<text x="648" y="23.6" font-size="7" text-anchor="middle" fill="#222" stroke="#222" stroke-width="0.09"><tspan font-style="italic">P</tspan>=0.013</text>
<text x="0" y="0" font-size="7.2" text-anchor="middle" fill="#222" stroke="#222" stroke-width="0.09" transform="translate(597.2,69.8) rotate(-90)">Relative Abundance of</text>
<text x="0" y="0" font-size="7.2" text-anchor="middle" fill="#222" stroke="#222" stroke-width="0.09" transform="translate(604.9,70.0) rotate(-90)">Fecal <tspan font-style="italic">P. copri</tspan></text>
<text x="0" y="0" font-size="7.3" text-anchor="end" fill="#222" stroke="#222" stroke-width="0.09" transform="translate(639.4,122.8) rotate(-45)">Non-obesity</text>
<text x="0" y="0" font-size="7.3" text-anchor="end" fill="#222" stroke="#222" stroke-width="0.09" transform="translate(661.4,122.8) rotate(-45)">Obesity</text>
<circle cx="636.8" cy="49.6" r="1.1" fill="#F87C7C" />
<circle cx="636.1" cy="52.7" r="1.1" fill="#F87C7C" />
<circle cx="637.7" cy="52.4" r="1.1" fill="#F87C7C" />
<circle cx="638.5" cy="57.1" r="1.1" fill="#F87C7C" />
<circle cx="636.9" cy="58.9" r="1.1" fill="#F87C7C" />
<circle cx="634.9" cy="65.1" r="1.1" fill="#F87C7C" />
<circle cx="636.8" cy="67" r="1.1" fill="#F87C7C" />
<circle cx="634.4" cy="76.1" r="1.1" fill="#F87C7C" />
<circle cx="638.1" cy="77.4" r="1.1" fill="#F87C7C" />
<circle cx="637.5" cy="79.9" r="1.1" fill="#F87C7C" />
<circle cx="636.3" cy="82.3" r="1.1" fill="#F87C7C" />
<circle cx="638.1" cy="83" r="1.1" fill="#F87C7C" />
<circle cx="632.5" cy="86" r="1.1" fill="#F87C7C" />
<circle cx="635" cy="86.7" r="1.1" fill="#F87C7C" />
<circle cx="637.5" cy="86" r="1.1" fill="#F87C7C" />
<circle cx="640" cy="85.4" r="1.1" fill="#F87C7C" />
<circle cx="633.5" cy="88.5" r="1.1" fill="#F87C7C" />
<circle cx="639.5" cy="88.6" r="1.1" fill="#F87C7C" />
<circle cx="636.9" cy="103.44" r="1.1" fill="#F87C7C" />
<circle cx="637.8" cy="101.76" r="1.1" fill="#F87C7C" />
<circle cx="636.9" cy="96.39" r="1.1" fill="#F87C7C" />
<circle cx="635.1" cy="103.23" r="1.1" fill="#F87C7C" />
<circle cx="639.6" cy="102.56" r="1.1" fill="#F87C7C" />
<circle cx="636" cy="101.34" r="1.1" fill="#F87C7C" />
<circle cx="636.9" cy="107.93" r="1.1" fill="#F87C7C" />
<circle cx="633.3" cy="102.5" r="1.1" fill="#F87C7C" />
<circle cx="639.6" cy="100.69" r="1.1" fill="#F87C7C" />
<circle cx="636.9" cy="98.28" r="1.1" fill="#F87C7C" />
<circle cx="637.8" cy="109.65" r="1.1" fill="#F87C7C" />
<circle cx="636.9" cy="105.86" r="1.1" fill="#F87C7C" />
<circle cx="636" cy="109.72" r="1.1" fill="#F87C7C" />
<circle cx="638.7" cy="98.03" r="1.1" fill="#F87C7C" />
<circle cx="635.1" cy="99.74" r="1.1" fill="#F87C7C" />
<circle cx="639.6" cy="110.76" r="1.1" fill="#F87C7C" />
<circle cx="638.7" cy="95.56" r="1.1" fill="#F87C7C" />
<circle cx="635.1" cy="95.81" r="1.1" fill="#F87C7C" />
<circle cx="633.3" cy="100.33" r="1.1" fill="#F87C7C" />
<circle cx="641.4" cy="100.91" r="1.1" fill="#F87C7C" />
<circle cx="639.15" cy="108.43" r="1.1" fill="#F87C7C" />
<circle cx="636.9" cy="111.41" r="1.1" fill="#F87C7C" />
<circle cx="631.5" cy="102.24" r="1.1" fill="#F87C7C" />
<circle cx="634.2" cy="110.37" r="1.1" fill="#F87C7C" />
<circle cx="635.1" cy="107.83" r="1.1" fill="#F87C7C" />
<circle cx="640.5" cy="106.92" r="1.1" fill="#F87C7C" />
<circle cx="641.4" cy="111.03" r="1.1" fill="#F87C7C" />
<circle cx="641.4" cy="103.25" r="1.1" fill="#F87C7C" />
<circle cx="643.2" cy="103.62" r="1.1" fill="#F87C7C" />
<circle cx="634.65" cy="97.56" r="1.1" fill="#F87C7C" />
<circle cx="629.7" cy="102.39" r="1.1" fill="#F87C7C" />
<circle cx="643.2" cy="100.54" r="1.1" fill="#F87C7C" />
<circle cx="645" cy="102.69" r="1.1" fill="#F87C7C" />
<circle cx="631.5" cy="100.2" r="1.1" fill="#F87C7C" />
<circle cx="627.9" cy="103.36" r="1.1" fill="#F87C7C" />
<circle cx="638.7" cy="106.29" r="1.1" fill="#F87C7C" />
<circle cx="640.5" cy="95.35" r="1.1" fill="#F87C7C" />
<circle cx="633.3" cy="95.37" r="1.1" fill="#F87C7C" />
<circle cx="640.5" cy="97.59" r="1.1" fill="#F87C7C" />
<circle cx="629.7" cy="99.53" r="1.1" fill="#F87C7C" />
<circle cx="635.1" cy="105.66" r="1.1" fill="#F87C7C" />
<circle cx="633.3" cy="107.13" r="1.1" fill="#F87C7C" />
<circle cx="642.3" cy="106.11" r="1.1" fill="#F87C7C" />
<circle cx="632.4" cy="110.14" r="1.1" fill="#F87C7C" />
<circle cx="642.3" cy="98.67" r="1.1" fill="#F87C7C" />
<circle cx="638.7" cy="104.27" r="1.1" fill="#F87C7C" />
<circle cx="632.85" cy="97.5" r="1.1" fill="#F87C7C" />
<circle cx="633.3" cy="104.49" r="1.1" fill="#F87C7C" />
<circle cx="642.3" cy="95.91" r="1.1" fill="#F87C7C" />
<circle cx="631.05" cy="97.49" r="1.1" fill="#F87C7C" />
<circle cx="631.5" cy="111.84" r="1.1" fill="#F87C7C" />
<circle cx="631.5" cy="107.48" r="1.1" fill="#F87C7C" />
<circle cx="644.1" cy="96.59" r="1.1" fill="#F87C7C" />
<circle cx="645.25" cy="103.16" r="1.1" fill="#F87C7C" />
<circle cx="631.5" cy="95.59" r="1.1" fill="#F87C7C" />
<circle cx="631.5" cy="104.31" r="1.1" fill="#F87C7C" />
<circle cx="643.2" cy="110.08" r="1.1" fill="#F87C7C" />
<circle cx="645" cy="100.7" r="1.1" fill="#F87C7C" />
<circle cx="644.1" cy="98.49" r="1.1" fill="#F87C7C" />
<circle cx="644.1" cy="106.44" r="1.1" fill="#F87C7C" />
<circle cx="630.6" cy="109.79" r="1.1" fill="#F87C7C" />
<circle cx="629.7" cy="105.38" r="1.1" fill="#F87C7C" />
<circle cx="658.2" cy="39.9" r="1.1" fill="#3A8EF2" />
<circle cx="658.2" cy="49.9" r="1.1" fill="#3A8EF2" />
<circle cx="658.2" cy="51.2" r="1.1" fill="#3A8EF2" />
<circle cx="658.2" cy="53" r="1.1" fill="#3A8EF2" />
<circle cx="658" cy="72" r="1.1" fill="#3A8EF2" />
<circle cx="658" cy="77.4" r="1.1" fill="#3A8EF2" />
<circle cx="658" cy="84.8" r="1.1" fill="#3A8EF2" />
<circle cx="657.4" cy="87.5" r="1.1" fill="#3A8EF2" />
<circle cx="659" cy="87.5" r="1.1" fill="#3A8EF2" />
<circle cx="654.9" cy="92.5" r="1.1" fill="#3A8EF2" />
<circle cx="660.5" cy="93.2" r="1.1" fill="#3A8EF2" />
<circle cx="658.2" cy="101.73" r="1.1" fill="#3A8EF2" />
<circle cx="658.2" cy="110.69" r="1.1" fill="#3A8EF2" />
<circle cx="658.2" cy="108.67" r="1.1" fill="#3A8EF2" />
<circle cx="660" cy="110.98" r="1.1" fill="#3A8EF2" />
<circle cx="656.4" cy="111.71" r="1.1" fill="#3A8EF2" />
<circle cx="660" cy="101.24" r="1.1" fill="#3A8EF2" />
<circle cx="656.4" cy="109.73" r="1.1" fill="#3A8EF2" />
<circle cx="658.2" cy="104.3" r="1.1" fill="#3A8EF2" />
<circle cx="659.55" cy="105.81" r="1.1" fill="#3A8EF2" />
<circle cx="661.35" cy="109.52" r="1.1" fill="#3A8EF2" />
<circle cx="656.4" cy="102.07" r="1.1" fill="#3A8EF2" />
<circle cx="654.6" cy="110.48" r="1.1" fill="#3A8EF2" />
<circle cx="660" cy="103.2" r="1.1" fill="#3A8EF2" />
<circle cx="662.7" cy="110.72" r="1.1" fill="#3A8EF2" />
<circle cx="657.75" cy="106.18" r="1.1" fill="#3A8EF2" />
<circle cx="653.25" cy="109.18" r="1.1" fill="#3A8EF2" />
<circle cx="660" cy="108.33" r="1.1" fill="#3A8EF2" />
<circle cx="658.2" cy="99.09" r="1.1" fill="#3A8EF2" />
<circle cx="661.8" cy="101.16" r="1.1" fill="#3A8EF2" />
<circle cx="656.4" cy="107.82" r="1.1" fill="#3A8EF2" />
<circle cx="656.4" cy="100.15" r="1.1" fill="#3A8EF2" />
<circle cx="664.05" cy="109.22" r="1.1" fill="#3A8EF2" />
<circle cx="661.35" cy="106.54" r="1.1" fill="#3A8EF2" />
<circle cx="654.6" cy="100.53" r="1.1" fill="#3A8EF2" />
<circle cx="661.8" cy="103.22" r="1.1" fill="#3A8EF2" />
<circle cx="652.8" cy="110.99" r="1.1" fill="#3A8EF2" />
<circle cx="660" cy="98.87" r="1.1" fill="#3A8EF2" />
<circle cx="651.45" cy="109.18" r="1.1" fill="#3A8EF2" />
<circle cx="665.85" cy="108.5" r="1.1" fill="#3A8EF2" />
<circle cx="663.6" cy="101.55" r="1.1" fill="#3A8EF2" />
<circle cx="654.6" cy="107.47" r="1.1" fill="#3A8EF2" />
<circle cx="662.7" cy="107.94" r="1.1" fill="#3A8EF2" />
<circle cx="664.5" cy="111.46" r="1.1" fill="#3A8EF2" />
<circle cx="651" cy="111.17" r="1.1" fill="#3A8EF2" />
<circle cx="656.4" cy="103.99" r="1.1" fill="#3A8EF2" />
<circle cx="649.65" cy="108.73" r="1.1" fill="#3A8EF2" />
<circle cx="654.6" cy="103.75" r="1.1" fill="#3A8EF2" />
<circle cx="652.8" cy="106.86" r="1.1" fill="#3A8EF2" />
<circle cx="655.5" cy="105.73" r="1.1" fill="#3A8EF2" />
<circle cx="661.8" cy="99.24" r="1.1" fill="#3A8EF2" />
<circle cx="662.7" cy="105.31" r="1.1" fill="#3A8EF2" />
<circle cx="652.8" cy="104.1" r="1.1" fill="#3A8EF2" />
<circle cx="652.8" cy="100.38" r="1.1" fill="#3A8EF2" />
<circle cx="650.91" cy="109.65" r="1.1" fill="#3A8EF2" />
<circle cx="666.75" cy="110.1" r="1.1" fill="#3A8EF2" />
<circle cx="664.5" cy="99.86" r="1.1" fill="#3A8EF2" />
<circle cx="651" cy="100.98" r="1.1" fill="#3A8EF2" />
<circle cx="649.71" cy="108.63" r="1.1" fill="#3A8EF2" />
<circle cx="666.71" cy="109.54" r="1.1" fill="#3A8EF2" />
<circle cx="665.4" cy="101.97" r="1.1" fill="#3A8EF2" />
<circle cx="666.3" cy="99.47" r="1.1" fill="#3A8EF2" />
<circle cx="653.39" cy="109.43" r="1.1" fill="#3A8EF2" />
<circle cx="650.1" cy="99.35" r="1.1" fill="#3A8EF2" />
<circle cx="661.96" cy="100.18" r="1.1" fill="#3A8EF2" />
<circle cx="663.6" cy="103.72" r="1.1" fill="#3A8EF2" />
<circle cx="664.5" cy="106.17" r="1.1" fill="#3A8EF2" />
<line x1="628" y1="92" x2="645.6" y2="92" stroke="#333" stroke-width="1.1" />
<line x1="636.8" y1="89.4" x2="636.8" y2="94.1" stroke="#222" stroke-width="1.0" />
<line x1="632.6" y1="89.4" x2="641" y2="89.4" stroke="#222" stroke-width="1.0" />
<line x1="632.6" y1="94.1" x2="641" y2="94.1" stroke="#222" stroke-width="1.0" />
<line x1="649" y1="97.2" x2="667" y2="97.2" stroke="#333" stroke-width="1.1" />
<line x1="658" y1="95.1" x2="658" y2="100.3" stroke="#222" stroke-width="1.0" />
<line x1="653.8" y1="95.1" x2="662.2" y2="95.1" stroke="#222" stroke-width="1.0" />
<line x1="653.8" y1="100.3" x2="662.2" y2="100.3" stroke="#222" stroke-width="1.0" />
<rect x="368.4" y="191.3" width="131" height="87.7" fill="none" stroke="#333" stroke-width="0.8"/>
<line x1="368.4" y1="191.3" x2="368.4" y2="279.4" stroke="#222" stroke-width="1.0" />
<line x1="368" y1="279" x2="499.4" y2="279" stroke="#222" stroke-width="1.0" />
<line x1="365.6" y1="279" x2="368.4" y2="279" stroke="#222" stroke-width="0.9" />
<text x="364.7" y="281.5" font-size="7.0" text-anchor="end" fill="#222" font-weight="normal" font-style="normal" stroke="#222" stroke-width="0.09" >0</text>
<line x1="365.6" y1="249.77" x2="368.4" y2="249.77" stroke="#222" stroke-width="0.9" />
<text x="364.7" y="252.27" font-size="7.0" text-anchor="end" fill="#222" font-weight="normal" font-style="normal" stroke="#222" stroke-width="0.09" >1</text>
<line x1="365.6" y1="220.53" x2="368.4" y2="220.53" stroke="#222" stroke-width="0.9" />
<text x="364.7" y="223.03" font-size="7.0" text-anchor="end" fill="#222" font-weight="normal" font-style="normal" stroke="#222" stroke-width="0.09" >2</text>
<line x1="365.6" y1="191.3" x2="368.4" y2="191.3" stroke="#222" stroke-width="0.9" />
<text x="364.7" y="193.8" font-size="7.0" text-anchor="end" fill="#222" font-weight="normal" font-style="normal" stroke="#222" stroke-width="0.09" >3</text>
<line x1="368.4" y1="279" x2="368.4" y2="282" stroke="#222" stroke-width="0.9" />
<text x="368.4" y="290.4" font-size="7.0" text-anchor="middle" fill="#222" font-weight="normal" font-style="normal" stroke="#222" stroke-width="0.09" >15</text>
<line x1="394.6" y1="279" x2="394.6" y2="282" stroke="#222" stroke-width="0.9" />
<text x="394.6" y="290.4" font-size="7.0" text-anchor="middle" fill="#222" font-weight="normal" font-style="normal" stroke="#222" stroke-width="0.09" >20</text>
<line x1="420.8" y1="279" x2="420.8" y2="282" stroke="#222" stroke-width="0.9" />
<text x="420.8" y="290.4" font-size="7.0" text-anchor="middle" fill="#222" font-weight="normal" font-style="normal" stroke="#222" stroke-width="0.09" >25</text>
<line x1="447" y1="279" x2="447" y2="282" stroke="#222" stroke-width="0.9" />
<text x="447" y="290.4" font-size="7.0" text-anchor="middle" fill="#222" font-weight="normal" font-style="normal" stroke="#222" stroke-width="0.09" >30</text>
<line x1="473.2" y1="279" x2="473.2" y2="282" stroke="#222" stroke-width="0.9" />
<text x="473.2" y="290.4" font-size="7.0" text-anchor="middle" fill="#222" font-weight="normal" font-style="normal" stroke="#222" stroke-width="0.09" >35</text>
<line x1="499.4" y1="279" x2="499.4" y2="282" stroke="#222" stroke-width="0.9" />
<text x="499.4" y="290.4" font-size="7.0" text-anchor="middle" fill="#222" font-weight="normal" font-style="normal" stroke="#222" stroke-width="0.09" >40</text>
<rect x="373.62" y="272.67" width="1.5" height="1.5" fill="#111"/>
<rect x="377.17" y="255.58" width="1.5" height="1.5" fill="#111"/>
<rect x="379.88" y="256" width="1.5" height="1.5" fill="#111"/>
<rect x="383.42" y="265.38" width="1.5" height="1.5" fill="#111"/>
<rect x="384.04" y="266.83" width="1.5" height="1.5" fill="#111"/>
<rect x="385.08" y="270.17" width="1.5" height="1.5" fill="#111"/>
<rect x="387.17" y="250.79" width="1.5" height="1.5" fill="#111"/>
<rect x="388.83" y="260.17" width="1.5" height="1.5" fill="#111"/>
<rect x="389.67" y="261.21" width="1.5" height="1.5" fill="#111"/>
<rect x="388.21" y="262.25" width="1.5" height="1.5" fill="#111"/>
<rect x="392.38" y="228.92" width="1.5" height="1.5" fill="#111"/>
<rect x="394.04" y="213.29" width="1.5" height="1.5" fill="#111"/>
<rect x="396.12" y="220.58" width="1.5" height="1.5" fill="#111"/>
<rect x="393" y="263.92" width="1.5" height="1.5" fill="#111"/>
<rect x="395.08" y="249.33" width="1.5" height="1.5" fill="#111"/>
<rect x="395.92" y="268.92" width="1.5" height="1.5" fill="#111"/>
<rect x="395.08" y="269.54" width="1.5" height="1.5" fill="#111"/>
<rect x="398" y="243.5" width="1.5" height="1.5" fill="#111"/>
<rect x="399.67" y="250.79" width="1.5" height="1.5" fill="#111"/>
<rect x="400.71" y="249.75" width="1.5" height="1.5" fill="#111"/>
<rect x="401.33" y="267.46" width="1.5" height="1.5" fill="#111"/>
<rect x="402.79" y="266.42" width="1.5" height="1.5" fill="#111"/>
<rect x="402.79" y="274.75" width="1.5" height="1.5" fill="#111"/>
<rect x="403.83" y="259.12" width="1.5" height="1.5" fill="#111"/>
<rect x="404.25" y="246.62" width="1.5" height="1.5" fill="#111"/>
<rect x="404.88" y="216.83" width="1.5" height="1.5" fill="#111"/>
<rect x="404.25" y="270.17" width="1.5" height="1.5" fill="#111"/>
<rect x="408" y="264.75" width="1.5" height="1.5" fill="#111"/>
<rect x="408.42" y="266.42" width="1.5" height="1.5" fill="#111"/>
<rect x="406.96" y="270.17" width="1.5" height="1.5" fill="#111"/>
<rect x="409.04" y="261.21" width="1.5" height="1.5" fill="#111"/>
<rect x="410.08" y="251.42" width="1.5" height="1.5" fill="#111"/>
<rect x="410.5" y="241.42" width="1.5" height="1.5" fill="#111"/>
<rect x="410.08" y="273.08" width="1.5" height="1.5" fill="#111"/>
<rect x="411.75" y="257.67" width="1.5" height="1.5" fill="#111"/>
<rect x="412.58" y="258.5" width="1.5" height="1.5" fill="#111"/>
<rect x="415.29" y="269.54" width="1.5" height="1.5" fill="#111"/>
<rect x="415.92" y="270.58" width="1.5" height="1.5" fill="#111"/>
<rect x="415.92" y="216.42" width="1.5" height="1.5" fill="#111"/>
<rect x="416.33" y="261.83" width="1.5" height="1.5" fill="#111"/>
<rect x="417.38" y="262.25" width="1.5" height="1.5" fill="#111"/>
<rect x="417.38" y="240.38" width="1.5" height="1.5" fill="#111"/>
<rect x="419.46" y="270.17" width="1.5" height="1.5" fill="#111"/>
<rect x="420.92" y="269.54" width="1.5" height="1.5" fill="#111"/>
<rect x="422.17" y="246" width="1.5" height="1.5" fill="#111"/>
<rect x="423" y="230.58" width="1.5" height="1.5" fill="#111"/>
<rect x="423.62" y="258.5" width="1.5" height="1.5" fill="#111"/>
<rect x="426.33" y="266" width="1.5" height="1.5" fill="#111"/>
<rect x="426.75" y="272.67" width="1.5" height="1.5" fill="#111"/>
<rect x="428.42" y="272.67" width="1.5" height="1.5" fill="#111"/>
<rect x="427.79" y="222.67" width="1.5" height="1.5" fill="#111"/>
<rect x="429.88" y="264.33" width="1.5" height="1.5" fill="#111"/>
<rect x="443.83" y="213.29" width="1.5" height="1.5" fill="#111"/>
<rect x="466.75" y="216" width="1.5" height="1.5" fill="#111"/>
<rect x="442.17" y="235.58" width="1.5" height="1.5" fill="#111"/>
<rect x="470.92" y="241" width="1.5" height="1.5" fill="#111"/>
<rect x="451.12" y="248.71" width="1.5" height="1.5" fill="#111"/>
<rect x="453.21" y="251.83" width="1.5" height="1.5" fill="#111"/>
<rect x="462.58" y="251.42" width="1.5" height="1.5" fill="#111"/>
<rect x="460.92" y="256.42" width="1.5" height="1.5" fill="#111"/>
<rect x="468.83" y="258.08" width="1.5" height="1.5" fill="#111"/>
<rect x="454.25" y="259.75" width="1.5" height="1.5" fill="#111"/>
<rect x="457.38" y="261.21" width="1.5" height="1.5" fill="#111"/>
<rect x="460.5" y="260.17" width="1.5" height="1.5" fill="#111"/>
<rect x="475.5" y="260.17" width="1.5" height="1.5" fill="#111"/>
<rect x="483" y="263.29" width="1.5" height="1.5" fill="#111"/>
<rect x="439.67" y="277.25" width="1.5" height="1.5" fill="#111"/>
<rect x="446.33" y="268.92" width="1.5" height="1.5" fill="#111"/>
<rect x="448" y="272.67" width="1.5" height="1.5" fill="#111"/>
<rect x="451.12" y="266" width="1.5" height="1.5" fill="#111"/>
<rect x="451.75" y="269.54" width="1.5" height="1.5" fill="#111"/>
<rect x="454.25" y="271.62" width="1.5" height="1.5" fill="#111"/>
<rect x="455.29" y="273.08" width="1.5" height="1.5" fill="#111"/>
<rect x="458.83" y="266" width="1.5" height="1.5" fill="#111"/>
<rect x="459.46" y="268.92" width="1.5" height="1.5" fill="#111"/>
<rect x="460.08" y="271.62" width="1.5" height="1.5" fill="#111"/>
<rect x="460.92" y="267.46" width="1.5" height="1.5" fill="#111"/>
<rect x="461.54" y="275.79" width="1.5" height="1.5" fill="#111"/>
<rect x="463" y="268.5" width="1.5" height="1.5" fill="#111"/>
<rect x="463.62" y="271.62" width="1.5" height="1.5" fill="#111"/>
<rect x="465.71" y="266.83" width="1.5" height="1.5" fill="#111"/>
<rect x="466.33" y="269.54" width="1.5" height="1.5" fill="#111"/>
<rect x="466.75" y="271.62" width="1.5" height="1.5" fill="#111"/>
<rect x="467.17" y="273.08" width="1.5" height="1.5" fill="#111"/>
<rect x="467.79" y="274.75" width="1.5" height="1.5" fill="#111"/>
<rect x="468.42" y="266.83" width="1.5" height="1.5" fill="#111"/>
<rect x="469.25" y="269.54" width="1.5" height="1.5" fill="#111"/>
<rect x="469.88" y="271.62" width="1.5" height="1.5" fill="#111"/>
<rect x="470.5" y="273.08" width="1.5" height="1.5" fill="#111"/>
<rect x="470.92" y="274.75" width="1.5" height="1.5" fill="#111"/>
<rect x="471.96" y="269.54" width="1.5" height="1.5" fill="#111"/>
<rect x="472.58" y="271.62" width="1.5" height="1.5" fill="#111"/>
<rect x="467.79" y="202.88" width="1.5" height="1.5" fill="#111"/>
<line x1="374.3" y1="254" x2="484.2" y2="263.8" stroke="#222" stroke-width="0.9" />
<text x="498.2" y="199.6" font-size="7.1" text-anchor="end" fill="#222" stroke="#222" stroke-width="0.09"><tspan font-style="italic">r</tspan>=-0.252</text>
<text x="498.4" y="207.4" font-size="7.1" text-anchor="end" fill="#222" stroke="#222" stroke-width="0.09"><tspan font-style="italic">P</tspan>=0.015</text>
<text x="433.5" y="300.6" font-size="7.25" text-anchor="middle" fill="#222" font-weight="normal" font-style="normal" stroke="#222" stroke-width="0.09" >BMI</text>
<text x="0" y="0" font-size="7.25" text-anchor="middle" fill="#222" stroke="#222" stroke-width="0.09" transform="translate(348.7,233.95) rotate(-90)"><tspan font-style="italic">P. copri</tspan> Abundance (a.u.)</text>
<rect x="547.8" y="191.3" width="130.9" height="87.7" fill="none" stroke="#333" stroke-width="0.8"/>
<line x1="547.8" y1="191.3" x2="547.8" y2="279.4" stroke="#222" stroke-width="1.0" />
<line x1="547.4" y1="279" x2="678.7" y2="279" stroke="#222" stroke-width="1.0" />
<line x1="545" y1="279" x2="547.8" y2="279" stroke="#222" stroke-width="0.9" />
<text x="544.1" y="281.5" font-size="7.0" text-anchor="end" fill="#222" font-weight="normal" font-style="normal" stroke="#222" stroke-width="0.09" >0</text>
<line x1="545" y1="249.77" x2="547.8" y2="249.77" stroke="#222" stroke-width="0.9" />
<text x="544.1" y="252.27" font-size="7.0" text-anchor="end" fill="#222" font-weight="normal" font-style="normal" stroke="#222" stroke-width="0.09" >1</text>
<line x1="545" y1="220.53" x2="547.8" y2="220.53" stroke="#222" stroke-width="0.9" />
<text x="544.1" y="223.03" font-size="7.0" text-anchor="end" fill="#222" font-weight="normal" font-style="normal" stroke="#222" stroke-width="0.09" >2</text>
<line x1="545" y1="191.3" x2="547.8" y2="191.3" stroke="#222" stroke-width="0.9" />
<text x="544.1" y="193.8" font-size="7.0" text-anchor="end" fill="#222" font-weight="normal" font-style="normal" stroke="#222" stroke-width="0.09" >3</text>
<line x1="547.8" y1="279" x2="547.8" y2="282" stroke="#222" stroke-width="0.9" />
<text x="547.8" y="290.4" font-size="7.0" text-anchor="middle" fill="#222" font-weight="normal" font-style="normal" stroke="#222" stroke-width="0.09" >50</text>
<line x1="580.52" y1="279" x2="580.52" y2="282" stroke="#222" stroke-width="0.9" />
<text x="580.52" y="290.4" font-size="7.0" text-anchor="middle" fill="#222" font-weight="normal" font-style="normal" stroke="#222" stroke-width="0.09" >70</text>
<line x1="613.25" y1="279" x2="613.25" y2="282" stroke="#222" stroke-width="0.9" />
<text x="613.25" y="290.4" font-size="7.0" text-anchor="middle" fill="#222" font-weight="normal" font-style="normal" stroke="#222" stroke-width="0.09" >90</text>
<line x1="645.98" y1="279" x2="645.98" y2="282" stroke="#222" stroke-width="0.9" />
<text x="645.98" y="290.4" font-size="7.0" text-anchor="middle" fill="#222" font-weight="normal" font-style="normal" stroke="#222" stroke-width="0.09" >110</text>
<line x1="678.7" y1="279" x2="678.7" y2="282" stroke="#222" stroke-width="0.9" />
<text x="678.7" y="290.4" font-size="7.0" text-anchor="middle" fill="#222" font-weight="normal" font-style="normal" stroke="#222" stroke-width="0.09" >130</text>
<rect x="560.29" y="256" width="1.5" height="1.5" fill="#111"/>
<rect x="562.58" y="273.08" width="1.5" height="1.5" fill="#111"/>
<rect x="565.08" y="266.83" width="1.5" height="1.5" fill="#111"/>
<rect x="568.21" y="264.75" width="1.5" height="1.5" fill="#111"/>
<rect x="571.33" y="250.79" width="1.5" height="1.5" fill="#111"/>
<rect x="573" y="256" width="1.5" height="1.5" fill="#111"/>
<rect x="573.42" y="261.83" width="1.5" height="1.5" fill="#111"/>
<rect x="573.42" y="268.92" width="1.5" height="1.5" fill="#111"/>
<rect x="576.54" y="220.58" width="1.5" height="1.5" fill="#111"/>
<rect x="576.54" y="249.75" width="1.5" height="1.5" fill="#111"/>
<rect x="578" y="267.46" width="1.5" height="1.5" fill="#111"/>
<rect x="581.33" y="243.5" width="1.5" height="1.5" fill="#111"/>
<rect x="581.33" y="260.17" width="1.5" height="1.5" fill="#111"/>
<rect x="581.33" y="261.83" width="1.5" height="1.5" fill="#111"/>
<rect x="581.33" y="268.92" width="1.5" height="1.5" fill="#111"/>
<rect x="581.75" y="270.58" width="1.5" height="1.5" fill="#111"/>
<rect x="583.83" y="213.29" width="1.5" height="1.5" fill="#111"/>
<rect x="584.88" y="229.33" width="1.5" height="1.5" fill="#111"/>
<rect x="584.88" y="249.33" width="1.5" height="1.5" fill="#111"/>
<rect x="583.83" y="266" width="1.5" height="1.5" fill="#111"/>
<rect x="584.88" y="269.54" width="1.5" height="1.5" fill="#111"/>
<rect x="582.79" y="268.5" width="1.5" height="1.5" fill="#111"/>
<rect x="586.96" y="216.83" width="1.5" height="1.5" fill="#111"/>
<rect x="588" y="251.42" width="1.5" height="1.5" fill="#111"/>
<rect x="588.42" y="261.21" width="1.5" height="1.5" fill="#111"/>
<rect x="590.08" y="246.62" width="1.5" height="1.5" fill="#111"/>
<rect x="591.12" y="268.5" width="1.5" height="1.5" fill="#111"/>
<rect x="590.5" y="266.42" width="1.5" height="1.5" fill="#111"/>
<rect x="592.58" y="222.67" width="1.5" height="1.5" fill="#111"/>
<rect x="593.21" y="245.58" width="1.5" height="1.5" fill="#111"/>
<rect x="593.83" y="259.12" width="1.5" height="1.5" fill="#111"/>
<rect x="594.25" y="262.25" width="1.5" height="1.5" fill="#111"/>
<rect x="594.25" y="269.54" width="1.5" height="1.5" fill="#111"/>
<rect x="595.29" y="270.17" width="1.5" height="1.5" fill="#111"/>
<rect x="596.33" y="216.83" width="1.5" height="1.5" fill="#111"/>
<rect x="596.33" y="240.38" width="1.5" height="1.5" fill="#111"/>
<rect x="596.33" y="251.42" width="1.5" height="1.5" fill="#111"/>
<rect x="595.92" y="265.38" width="1.5" height="1.5" fill="#111"/>
<rect x="599.46" y="260.58" width="1.5" height="1.5" fill="#111"/>
<rect x="599.46" y="273.08" width="1.5" height="1.5" fill="#111"/>
<rect x="601.54" y="273.08" width="1.5" height="1.5" fill="#111"/>
<rect x="603.21" y="256" width="1.5" height="1.5" fill="#111"/>
<rect x="603.62" y="258.08" width="1.5" height="1.5" fill="#111"/>
<rect x="604.67" y="269.54" width="1.5" height="1.5" fill="#111"/>
<rect x="605.08" y="276.83" width="1.5" height="1.5" fill="#111"/>
<rect x="606.33" y="260.58" width="1.5" height="1.5" fill="#111"/>
<rect x="607.17" y="264.75" width="1.5" height="1.5" fill="#111"/>
<rect x="607.79" y="266" width="1.5" height="1.5" fill="#111"/>
<rect x="610.5" y="274.33" width="1.5" height="1.5" fill="#111"/>
<rect x="614.04" y="241" width="1.5" height="1.5" fill="#111"/>
<rect x="640.08" y="202.88" width="1.5" height="1.5" fill="#111"/>
<rect x="627.58" y="213.29" width="1.5" height="1.5" fill="#111"/>
<rect x="656.75" y="216.42" width="1.5" height="1.5" fill="#111"/>
<rect x="615.92" y="230.58" width="1.5" height="1.5" fill="#111"/>
<rect x="623.83" y="236.21" width="1.5" height="1.5" fill="#111"/>
<rect x="613.83" y="241" width="1.5" height="1.5" fill="#111"/>
<rect x="647.38" y="241" width="1.5" height="1.5" fill="#111"/>
<rect x="639.46" y="248.71" width="1.5" height="1.5" fill="#111"/>
<rect x="636.96" y="251.83" width="1.5" height="1.5" fill="#111"/>
<rect x="645.08" y="251.42" width="1.5" height="1.5" fill="#111"/>
<rect x="635.29" y="258.08" width="1.5" height="1.5" fill="#111"/>
<rect x="635.92" y="259.75" width="1.5" height="1.5" fill="#111"/>
<rect x="640.5" y="259.75" width="1.5" height="1.5" fill="#111"/>
<rect x="641.54" y="260.58" width="1.5" height="1.5" fill="#111"/>
<rect x="640.08" y="261.21" width="1.5" height="1.5" fill="#111"/>
<rect x="643" y="257.04" width="1.5" height="1.5" fill="#111"/>
<rect x="610.92" y="274.33" width="1.5" height="1.5" fill="#111"/>
<rect x="615.92" y="273.08" width="1.5" height="1.5" fill="#111"/>
<rect x="630.08" y="268.92" width="1.5" height="1.5" fill="#111"/>
<rect x="630.5" y="272.25" width="1.5" height="1.5" fill="#111"/>
<rect x="636.33" y="273.71" width="1.5" height="1.5" fill="#111"/>
<rect x="637.38" y="275.79" width="1.5" height="1.5" fill="#111"/>
<rect x="638.42" y="267.46" width="1.5" height="1.5" fill="#111"/>
<rect x="639.46" y="269.54" width="1.5" height="1.5" fill="#111"/>
<rect x="640.08" y="271.62" width="1.5" height="1.5" fill="#111"/>
<rect x="640.5" y="273.08" width="1.5" height="1.5" fill="#111"/>
<rect x="641.54" y="274.33" width="1.5" height="1.5" fill="#111"/>
<rect x="642.58" y="275.79" width="1.5" height="1.5" fill="#111"/>
<rect x="643.62" y="269.54" width="1.5" height="1.5" fill="#111"/>
<rect x="644.25" y="271.62" width="1.5" height="1.5" fill="#111"/>
<rect x="644.67" y="273.71" width="1.5" height="1.5" fill="#111"/>
<rect x="646.33" y="266.42" width="1.5" height="1.5" fill="#111"/>
<rect x="646.75" y="270.17" width="1.5" height="1.5" fill="#111"/>
<rect x="648.83" y="272.67" width="1.5" height="1.5" fill="#111"/>
<rect x="649.88" y="269.54" width="1.5" height="1.5" fill="#111"/>
<rect x="652.58" y="265.38" width="1.5" height="1.5" fill="#111"/>
<rect x="653" y="275.17" width="1.5" height="1.5" fill="#111"/>
<rect x="654.04" y="276.83" width="1.5" height="1.5" fill="#111"/>
<rect x="655.08" y="272.25" width="1.5" height="1.5" fill="#111"/>
<rect x="660.92" y="266.83" width="1.5" height="1.5" fill="#111"/>
<rect x="638.83" y="270.58" width="1.5" height="1.5" fill="#111"/>
<rect x="640.92" y="269.54" width="1.5" height="1.5" fill="#111"/>
<rect x="642.17" y="271" width="1.5" height="1.5" fill="#111"/>
<rect x="643" y="272.67" width="1.5" height="1.5" fill="#111"/>
<line x1="560.4" y1="254.2" x2="662.2" y2="263.8" stroke="#222" stroke-width="0.9" />
<text x="677.5" y="199.6" font-size="7.1" text-anchor="end" fill="#222" stroke="#222" stroke-width="0.09"><tspan font-style="italic">r</tspan>=-0.275</text>
<text x="677.7" y="207.4" font-size="7.1" text-anchor="end" fill="#222" stroke="#222" stroke-width="0.09"><tspan font-style="italic">P</tspan>=0.008</text>
<text x="614.3" y="300.6" font-size="7.25" text-anchor="middle" fill="#222" font-weight="normal" font-style="normal" stroke="#222" stroke-width="0.09" >Waist Circumference (cm)</text>
<text x="0" y="0" font-size="7.25" text-anchor="middle" fill="#222" stroke="#222" stroke-width="0.09" transform="translate(530.3,233.95) rotate(-90)"><tspan font-style="italic">P. copri</tspan> Abundance (a.u.)</text>
<rect x="369.6" y="323.9" width="129.4" height="85.7" fill="none" stroke="#333" stroke-width="0.8"/>
<line x1="369.6" y1="323.9" x2="369.6" y2="410" stroke="#222" stroke-width="1.0" />
<line x1="369.2" y1="409.6" x2="499" y2="409.6" stroke="#222" stroke-width="1.0" />
<line x1="366.8" y1="409.6" x2="369.6" y2="409.6" stroke="#222" stroke-width="0.9" />
<text x="365.9" y="412.1" font-size="7.0" text-anchor="end" fill="#222" font-weight="normal" font-style="normal" stroke="#222" stroke-width="0.09" >0</text>
<line x1="366.8" y1="381.03" x2="369.6" y2="381.03" stroke="#222" stroke-width="0.9" />
<text x="365.9" y="383.53" font-size="7.0" text-anchor="end" fill="#222" font-weight="normal" font-style="normal" stroke="#222" stroke-width="0.09" >1</text>
<line x1="366.8" y1="352.47" x2="369.6" y2="352.47" stroke="#222" stroke-width="0.9" />
<text x="365.9" y="354.97" font-size="7.0" text-anchor="end" fill="#222" font-weight="normal" font-style="normal" stroke="#222" stroke-width="0.09" >2</text>
<line x1="366.8" y1="323.9" x2="369.6" y2="323.9" stroke="#222" stroke-width="0.9" />
<text x="365.9" y="326.4" font-size="7.0" text-anchor="end" fill="#222" font-weight="normal" font-style="normal" stroke="#222" stroke-width="0.09" >3</text>
<line x1="369.6" y1="409.6" x2="369.6" y2="412.6" stroke="#222" stroke-width="0.9" />
<text x="369.6" y="421" font-size="7.0" text-anchor="middle" fill="#222" font-weight="normal" font-style="normal" stroke="#222" stroke-width="0.09" >10</text>
<line x1="395.48" y1="409.6" x2="395.48" y2="412.6" stroke="#222" stroke-width="0.9" />
<text x="395.48" y="421" font-size="7.0" text-anchor="middle" fill="#222" font-weight="normal" font-style="normal" stroke="#222" stroke-width="0.09" >20</text>
<line x1="421.36" y1="409.6" x2="421.36" y2="412.6" stroke="#222" stroke-width="0.9" />
<text x="421.36" y="421" font-size="7.0" text-anchor="middle" fill="#222" font-weight="normal" font-style="normal" stroke="#222" stroke-width="0.09" >30</text>
<line x1="447.24" y1="409.6" x2="447.24" y2="412.6" stroke="#222" stroke-width="0.9" />
<text x="447.24" y="421" font-size="7.0" text-anchor="middle" fill="#222" font-weight="normal" font-style="normal" stroke="#222" stroke-width="0.09" >40</text>
<line x1="473.12" y1="409.6" x2="473.12" y2="412.6" stroke="#222" stroke-width="0.9" />
<text x="473.12" y="421" font-size="7.0" text-anchor="middle" fill="#222" font-weight="normal" font-style="normal" stroke="#222" stroke-width="0.09" >50</text>
<line x1="499" y1="409.6" x2="499" y2="412.6" stroke="#222" stroke-width="0.9" />
<text x="499" y="421" font-size="7.0" text-anchor="middle" fill="#222" font-weight="normal" font-style="normal" stroke="#222" stroke-width="0.09" >60</text>
<rect x="385.64" y="374.76" width="1.5" height="1.5" fill="#111"/>
<rect x="388.7" y="345.37" width="1.5" height="1.5" fill="#111"/>
<rect x="400.54" y="348.84" width="1.5" height="1.5" fill="#111"/>
<rect x="401.96" y="345.37" width="1.5" height="1.5" fill="#111"/>
<rect x="409.72" y="352.92" width="1.5" height="1.5" fill="#111"/>
<rect x="404.01" y="362.52" width="1.5" height="1.5" fill="#111"/>
<rect x="415.64" y="361.09" width="1.5" height="1.5" fill="#111"/>
<rect x="424.01" y="354.96" width="1.5" height="1.5" fill="#111"/>
<rect x="426.86" y="349.25" width="1.5" height="1.5" fill="#111"/>
<rect x="426.86" y="367.82" width="1.5" height="1.5" fill="#111"/>
<rect x="401.35" y="373.33" width="1.5" height="1.5" fill="#111"/>
<rect x="409.11" y="372.31" width="1.5" height="1.5" fill="#111"/>
<rect x="418.29" y="377.82" width="1.5" height="1.5" fill="#111"/>
<rect x="419.72" y="381.49" width="1.5" height="1.5" fill="#111"/>
<rect x="428.9" y="378.43" width="1.5" height="1.5" fill="#111"/>
<rect x="388.7" y="388.23" width="1.5" height="1.5" fill="#111"/>
<rect x="396.45" y="382.92" width="1.5" height="1.5" fill="#111"/>
<rect x="397.88" y="382.92" width="1.5" height="1.5" fill="#111"/>
<rect x="396.45" y="388.23" width="1.5" height="1.5" fill="#111"/>
<rect x="404.01" y="388.23" width="1.5" height="1.5" fill="#111"/>
<rect x="404.01" y="390.68" width="1.5" height="1.5" fill="#111"/>
<rect x="404.01" y="392.31" width="1.5" height="1.5" fill="#111"/>
<rect x="408.09" y="383.13" width="1.5" height="1.5" fill="#111"/>
<rect x="407.07" y="394.35" width="1.5" height="1.5" fill="#111"/>
<rect x="409.52" y="395.78" width="1.5" height="1.5" fill="#111"/>
<rect x="415.64" y="391.09" width="1.5" height="1.5" fill="#111"/>
<rect x="416.25" y="392.31" width="1.5" height="1.5" fill="#111"/>
<rect x="414.82" y="398.43" width="1.5" height="1.5" fill="#111"/>
<rect x="392.37" y="396.39" width="1.5" height="1.5" fill="#111"/>
<rect x="393.19" y="396.39" width="1.5" height="1.5" fill="#111"/>
<rect x="390.33" y="400.88" width="1.5" height="1.5" fill="#111"/>
<rect x="391.76" y="401.9" width="1.5" height="1.5" fill="#111"/>
<rect x="393.19" y="404.96" width="1.5" height="1.5" fill="#111"/>
<rect x="404.62" y="399.86" width="1.5" height="1.5" fill="#111"/>
<rect x="404.62" y="404.56" width="1.5" height="1.5" fill="#111"/>
<rect x="409.72" y="405.98" width="1.5" height="1.5" fill="#111"/>
<rect x="421.35" y="401.9" width="1.5" height="1.5" fill="#111"/>
<rect x="426.86" y="391.09" width="1.5" height="1.5" fill="#111"/>
<rect x="427.07" y="398.43" width="1.5" height="1.5" fill="#111"/>
<rect x="427.07" y="401.9" width="1.5" height="1.5" fill="#111"/>
<rect x="429.52" y="400.88" width="1.5" height="1.5" fill="#111"/>
<rect x="429.92" y="404.96" width="1.5" height="1.5" fill="#111"/>
<rect x="431.15" y="404.96" width="1.5" height="1.5" fill="#111"/>
<rect x="433.6" y="399.86" width="1.5" height="1.5" fill="#111"/>
<rect x="435.64" y="394.35" width="1.5" height="1.5" fill="#111"/>
<rect x="453.74" y="335.17" width="1.5" height="1.5" fill="#111"/>
<rect x="467.62" y="348.23" width="1.5" height="1.5" fill="#111"/>
<rect x="457.41" y="372.72" width="1.5" height="1.5" fill="#111"/>
<rect x="455.37" y="380.47" width="1.5" height="1.5" fill="#111"/>
<rect x="460.27" y="384.15" width="1.5" height="1.5" fill="#111"/>
<rect x="475.78" y="383.13" width="1.5" height="1.5" fill="#111"/>
<rect x="453.33" y="388.23" width="1.5" height="1.5" fill="#111"/>
<rect x="473.13" y="389.66" width="1.5" height="1.5" fill="#111"/>
<rect x="476.6" y="391.09" width="1.5" height="1.5" fill="#111"/>
<rect x="471.09" y="392.72" width="1.5" height="1.5" fill="#111"/>
<rect x="459.45" y="392.31" width="1.5" height="1.5" fill="#111"/>
<rect x="457.82" y="395.17" width="1.5" height="1.5" fill="#111"/>
<rect x="445.17" y="390.68" width="1.5" height="1.5" fill="#111"/>
<rect x="442.52" y="392.72" width="1.5" height="1.5" fill="#111"/>
<rect x="435.37" y="393.74" width="1.5" height="1.5" fill="#111"/>
<rect x="439.45" y="396.39" width="1.5" height="1.5" fill="#111"/>
<rect x="437.82" y="399.25" width="1.5" height="1.5" fill="#111"/>
<rect x="436.39" y="400.47" width="1.5" height="1.5" fill="#111"/>
<rect x="430.27" y="400.88" width="1.5" height="1.5" fill="#111"/>
<rect x="430.27" y="403.33" width="1.5" height="1.5" fill="#111"/>
<rect x="432.31" y="404.96" width="1.5" height="1.5" fill="#111"/>
<rect x="444.56" y="399.86" width="1.5" height="1.5" fill="#111"/>
<rect x="443.94" y="402.52" width="1.5" height="1.5" fill="#111"/>
<rect x="448.64" y="401.29" width="1.5" height="1.5" fill="#111"/>
<rect x="449.25" y="402.92" width="1.5" height="1.5" fill="#111"/>
<rect x="448.03" y="404.96" width="1.5" height="1.5" fill="#111"/>
<rect x="445.58" y="405.98" width="1.5" height="1.5" fill="#111"/>
<rect x="444.56" y="407.01" width="1.5" height="1.5" fill="#111"/>
<rect x="455.78" y="396.39" width="1.5" height="1.5" fill="#111"/>
<rect x="456.8" y="397.82" width="1.5" height="1.5" fill="#111"/>
<rect x="459.86" y="400.47" width="1.5" height="1.5" fill="#111"/>
<rect x="460.88" y="401.9" width="1.5" height="1.5" fill="#111"/>
<rect x="459.45" y="402.92" width="1.5" height="1.5" fill="#111"/>
<rect x="462.31" y="406.6" width="1.5" height="1.5" fill="#111"/>
<rect x="464.96" y="407.41" width="1.5" height="1.5" fill="#111"/>
<rect x="451.7" y="408.64" width="1.5" height="1.5" fill="#111"/>
<rect x="471.09" y="406.6" width="1.5" height="1.5" fill="#111"/>
<rect x="472.52" y="396.8" width="1.5" height="1.5" fill="#111"/>
<rect x="473.74" y="398.43" width="1.5" height="1.5" fill="#111"/>
<rect x="474.15" y="399.86" width="1.5" height="1.5" fill="#111"/>
<rect x="473.13" y="401.9" width="1.5" height="1.5" fill="#111"/>
<rect x="473.74" y="403.33" width="1.5" height="1.5" fill="#111"/>
<line x1="386.2" y1="382" x2="474.5" y2="397" stroke="#222" stroke-width="0.9" />
<text x="497.8" y="332.2" font-size="7.1" text-anchor="end" fill="#222" stroke="#222" stroke-width="0.09"><tspan font-style="italic">r</tspan>=-0.307</text>
<text x="498" y="340" font-size="7.1" text-anchor="end" fill="#222" stroke="#222" stroke-width="0.09"><tspan font-style="italic">P</tspan>=0.003</text>
<text x="434.4" y="431.2" font-size="7.25" text-anchor="middle" fill="#222" font-weight="normal" font-style="normal" stroke="#222" stroke-width="0.09" >Percentage of Body Fat (%)</text>
<text x="0" y="0" font-size="7.25" text-anchor="middle" fill="#222" stroke="#222" stroke-width="0.09" transform="translate(352.9,365.55) rotate(-90)"><tspan font-style="italic">P. copri</tspan> Abundance (a.u.)</text>
<rect x="550.2" y="322.8" width="128.1" height="85.9" fill="none" stroke="#333" stroke-width="0.8"/>
<line x1="550.2" y1="322.8" x2="550.2" y2="409.1" stroke="#222" stroke-width="1.0" />
<line x1="549.8" y1="408.7" x2="678.3" y2="408.7" stroke="#222" stroke-width="1.0" />
<line x1="547.4" y1="408.7" x2="550.2" y2="408.7" stroke="#222" stroke-width="0.9" />
<text x="546.5" y="411.2" font-size="7.0" text-anchor="end" fill="#222" font-weight="normal" font-style="normal" stroke="#222" stroke-width="0.09" >0</text>
<line x1="547.4" y1="380.07" x2="550.2" y2="380.07" stroke="#222" stroke-width="0.9" />
<text x="546.5" y="382.57" font-size="7.0" text-anchor="end" fill="#222" font-weight="normal" font-style="normal" stroke="#222" stroke-width="0.09" >1</text>
<line x1="547.4" y1="351.43" x2="550.2" y2="351.43" stroke="#222" stroke-width="0.9" />
<text x="546.5" y="353.93" font-size="7.0" text-anchor="end" fill="#222" font-weight="normal" font-style="normal" stroke="#222" stroke-width="0.09" >2</text>
<line x1="547.4" y1="322.8" x2="550.2" y2="322.8" stroke="#222" stroke-width="0.9" />
<text x="546.5" y="325.3" font-size="7.0" text-anchor="end" fill="#222" font-weight="normal" font-style="normal" stroke="#222" stroke-width="0.09" >3</text>
<line x1="550.2" y1="408.7" x2="550.2" y2="411.7" stroke="#222" stroke-width="0.9" />
<text x="550.2" y="420.1" font-size="7.0" text-anchor="middle" fill="#222" font-weight="normal" font-style="normal" stroke="#222" stroke-width="0.09" >0</text>
<line x1="571.55" y1="408.7" x2="571.55" y2="411.7" stroke="#222" stroke-width="0.9" />
<text x="571.55" y="420.1" font-size="7.0" text-anchor="middle" fill="#222" font-weight="normal" font-style="normal" stroke="#222" stroke-width="0.09" >50</text>
<line x1="592.9" y1="408.7" x2="592.9" y2="411.7" stroke="#222" stroke-width="0.9" />
<text x="592.9" y="420.1" font-size="7.0" text-anchor="middle" fill="#222" font-weight="normal" font-style="normal" stroke="#222" stroke-width="0.09" >100</text>
<line x1="614.25" y1="408.7" x2="614.25" y2="411.7" stroke="#222" stroke-width="0.9" />
<text x="614.25" y="420.1" font-size="7.0" text-anchor="middle" fill="#222" font-weight="normal" font-style="normal" stroke="#222" stroke-width="0.09" >150</text>
<line x1="635.6" y1="408.7" x2="635.6" y2="411.7" stroke="#222" stroke-width="0.9" />
<text x="635.6" y="420.1" font-size="7.0" text-anchor="middle" fill="#222" font-weight="normal" font-style="normal" stroke="#222" stroke-width="0.09" >200</text>
<line x1="656.95" y1="408.7" x2="656.95" y2="411.7" stroke="#222" stroke-width="0.9" />
<text x="656.95" y="420.1" font-size="7.0" text-anchor="middle" fill="#222" font-weight="normal" font-style="normal" stroke="#222" stroke-width="0.09" >250</text>
<line x1="678.3" y1="408.7" x2="678.3" y2="411.7" stroke="#222" stroke-width="0.9" />
<text x="678.3" y="420.1" font-size="7.0" text-anchor="middle" fill="#222" font-weight="normal" font-style="normal" stroke="#222" stroke-width="0.09" >300</text>
<rect x="566.03" y="344.15" width="1.5" height="1.5" fill="#111"/>
<rect x="572.15" y="351.49" width="1.5" height="1.5" fill="#111"/>
<rect x="578.88" y="347.41" width="1.5" height="1.5" fill="#111"/>
<rect x="581.54" y="353.54" width="1.5" height="1.5" fill="#111"/>
<rect x="585.62" y="344.15" width="1.5" height="1.5" fill="#111"/>
<rect x="591.13" y="347.82" width="1.5" height="1.5" fill="#111"/>
<rect x="579.49" y="360.07" width="1.5" height="1.5" fill="#111"/>
<rect x="587.66" y="361.49" width="1.5" height="1.5" fill="#111"/>
<rect x="606.43" y="366.6" width="1.5" height="1.5" fill="#111"/>
<rect x="566.03" y="373.94" width="1.5" height="1.5" fill="#111"/>
<rect x="578.27" y="371.29" width="1.5" height="1.5" fill="#111"/>
<rect x="583.98" y="372.31" width="1.5" height="1.5" fill="#111"/>
<rect x="580.92" y="376.39" width="1.5" height="1.5" fill="#111"/>
<rect x="590.11" y="377.41" width="1.5" height="1.5" fill="#111"/>
<rect x="570.11" y="381.49" width="1.5" height="1.5" fill="#111"/>
<rect x="577.45" y="381.49" width="1.5" height="1.5" fill="#111"/>
<rect x="578.88" y="380.47" width="1.5" height="1.5" fill="#111"/>
<rect x="579.9" y="379.45" width="1.5" height="1.5" fill="#111"/>
<rect x="581.54" y="380.07" width="1.5" height="1.5" fill="#111"/>
<rect x="565.21" y="386.6" width="1.5" height="1.5" fill="#111"/>
<rect x="571.33" y="386.19" width="1.5" height="1.5" fill="#111"/>
<rect x="572.76" y="386.6" width="1.5" height="1.5" fill="#111"/>
<rect x="570.72" y="391.09" width="1.5" height="1.5" fill="#111"/>
<rect x="571.33" y="392.72" width="1.5" height="1.5" fill="#111"/>
<rect x="572.76" y="393.74" width="1.5" height="1.5" fill="#111"/>
<rect x="577.86" y="390.27" width="1.5" height="1.5" fill="#111"/>
<rect x="580.92" y="389.66" width="1.5" height="1.5" fill="#111"/>
<rect x="582.35" y="391.09" width="1.5" height="1.5" fill="#111"/>
<rect x="575.82" y="395.78" width="1.5" height="1.5" fill="#111"/>
<rect x="578.88" y="397.21" width="1.5" height="1.5" fill="#111"/>
<rect x="580.92" y="397.21" width="1.5" height="1.5" fill="#111"/>
<rect x="561.94" y="395.17" width="1.5" height="1.5" fill="#111"/>
<rect x="563.98" y="400.88" width="1.5" height="1.5" fill="#111"/>
<rect x="567.66" y="403.33" width="1.5" height="1.5" fill="#111"/>
<rect x="571.74" y="399.25" width="1.5" height="1.5" fill="#111"/>
<rect x="573.37" y="399.86" width="1.5" height="1.5" fill="#111"/>
<rect x="577.45" y="400.88" width="1.5" height="1.5" fill="#111"/>
<rect x="582.35" y="403.33" width="1.5" height="1.5" fill="#111"/>
<rect x="583.98" y="404.56" width="1.5" height="1.5" fill="#111"/>
<rect x="588.07" y="400.88" width="1.5" height="1.5" fill="#111"/>
<rect x="589.09" y="399.86" width="1.5" height="1.5" fill="#111"/>
<rect x="590.11" y="398.84" width="1.5" height="1.5" fill="#111"/>
<rect x="591.74" y="397.82" width="1.5" height="1.5" fill="#111"/>
<rect x="588.07" y="403.94" width="1.5" height="1.5" fill="#111"/>
<rect x="596.23" y="392.72" width="1.5" height="1.5" fill="#111"/>
<rect x="599.9" y="399.86" width="1.5" height="1.5" fill="#111"/>
<rect x="601.33" y="392.31" width="1.5" height="1.5" fill="#111"/>
<rect x="603.37" y="396.8" width="1.5" height="1.5" fill="#111"/>
<rect x="606.43" y="399.25" width="1.5" height="1.5" fill="#111"/>
<rect x="608.07" y="396.39" width="1.5" height="1.5" fill="#111"/>
<rect x="612.15" y="396.8" width="1.5" height="1.5" fill="#111"/>
<rect x="612.56" y="399.25" width="1.5" height="1.5" fill="#111"/>
<rect x="611.54" y="402.92" width="1.5" height="1.5" fill="#111"/>
<rect x="612.96" y="403.33" width="1.5" height="1.5" fill="#111"/>
<rect x="614.6" y="402.52" width="1.5" height="1.5" fill="#111"/>
<rect x="616.23" y="389.66" width="1.5" height="1.5" fill="#111"/>
<rect x="615.62" y="407.01" width="1.5" height="1.5" fill="#111"/>
<rect x="642.31" y="333.94" width="1.5" height="1.5" fill="#111"/>
<rect x="648.03" y="347.41" width="1.5" height="1.5" fill="#111"/>
<rect x="645.98" y="371.9" width="1.5" height="1.5" fill="#111"/>
<rect x="621.09" y="379.45" width="1.5" height="1.5" fill="#111"/>
<rect x="632.11" y="382.52" width="1.5" height="1.5" fill="#111"/>
<rect x="644.35" y="382.11" width="1.5" height="1.5" fill="#111"/>
<rect x="628.64" y="387.01" width="1.5" height="1.5" fill="#111"/>
<rect x="625.98" y="389.05" width="1.5" height="1.5" fill="#111"/>
<rect x="625.17" y="391.09" width="1.5" height="1.5" fill="#111"/>
<rect x="617.01" y="389.66" width="1.5" height="1.5" fill="#111"/>
<rect x="615.37" y="390.68" width="1.5" height="1.5" fill="#111"/>
<rect x="631.29" y="391.09" width="1.5" height="1.5" fill="#111"/>
<rect x="637.41" y="390.68" width="1.5" height="1.5" fill="#111"/>
<rect x="657.82" y="393.74" width="1.5" height="1.5" fill="#111"/>
<rect x="663.33" y="391.09" width="1.5" height="1.5" fill="#111"/>
<rect x="612.31" y="396.8" width="1.5" height="1.5" fill="#111"/>
<rect x="612.31" y="399.25" width="1.5" height="1.5" fill="#111"/>
<rect x="620.47" y="395.17" width="1.5" height="1.5" fill="#111"/>
<rect x="624.56" y="396.39" width="1.5" height="1.5" fill="#111"/>
<rect x="627.21" y="398.43" width="1.5" height="1.5" fill="#111"/>
<rect x="633.33" y="396.8" width="1.5" height="1.5" fill="#111"/>
<rect x="634.76" y="400.47" width="1.5" height="1.5" fill="#111"/>
<rect x="652.52" y="397.21" width="1.5" height="1.5" fill="#111"/>
<rect x="616.39" y="399.25" width="1.5" height="1.5" fill="#111"/>
<rect x="611.29" y="403.33" width="1.5" height="1.5" fill="#111"/>
<rect x="612.92" y="402.92" width="1.5" height="1.5" fill="#111"/>
<rect x="614.35" y="402.52" width="1.5" height="1.5" fill="#111"/>
<rect x="628.64" y="404.96" width="1.5" height="1.5" fill="#111"/>
<rect x="630.68" y="404.96" width="1.5" height="1.5" fill="#111"/>
<rect x="633.33" y="401.29" width="1.5" height="1.5" fill="#111"/>
<rect x="635.37" y="401.29" width="1.5" height="1.5" fill="#111"/>
<rect x="639.45" y="400.88" width="1.5" height="1.5" fill="#111"/>
<rect x="640.88" y="402.52" width="1.5" height="1.5" fill="#111"/>
<rect x="642.31" y="401.29" width="1.5" height="1.5" fill="#111"/>
<rect x="636.8" y="405.98" width="1.5" height="1.5" fill="#111"/>
<rect x="639.86" y="405.98" width="1.5" height="1.5" fill="#111"/>
<rect x="637.82" y="407.41" width="1.5" height="1.5" fill="#111"/>
<rect x="650.07" y="402.52" width="1.5" height="1.5" fill="#111"/>
<rect x="616.39" y="407.01" width="1.5" height="1.5" fill="#111"/>
<rect x="631.29" y="407.41" width="1.5" height="1.5" fill="#111"/>
<line x1="562.5" y1="384.3" x2="664.9" y2="397.7" stroke="#222" stroke-width="0.9" />
<text x="677.1" y="331.1" font-size="7.1" text-anchor="end" fill="#222" stroke="#222" stroke-width="0.09"><tspan font-style="italic">r</tspan>=-0.281</text>
<text x="677.3" y="338.9" font-size="7.1" text-anchor="end" fill="#222" stroke="#222" stroke-width="0.09"><tspan font-style="italic">P</tspan>=0.007</text>
<text x="615.4" y="432.4" font-size="7.25" text-anchor="middle" fill="#222" stroke="#222" stroke-width="0.09">Area of Visceral Fat (cm<tspan font-size="4.2" dy="-2.6">2</tspan><tspan dy="2.6">)</tspan></text>
<text x="0" y="0" font-size="7.25" text-anchor="middle" fill="#222" stroke="#222" stroke-width="0.09" transform="translate(532.5,364.55) rotate(-90)"><tspan font-style="italic">P. copri</tspan> Abundance (a.u.)</text>
</svg></body></html>
